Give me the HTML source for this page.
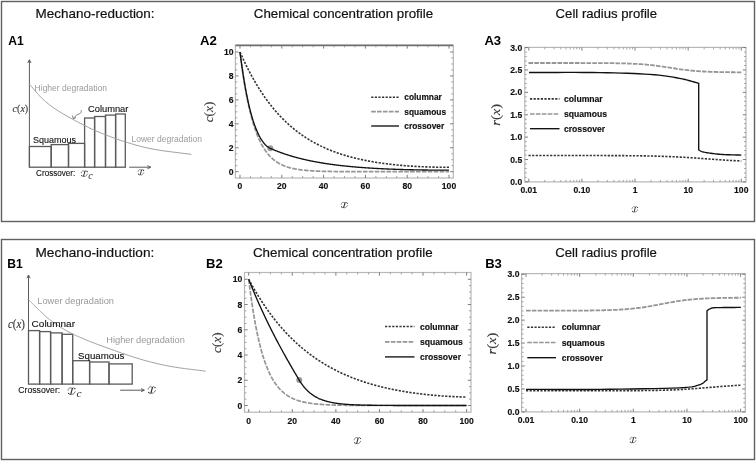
<!DOCTYPE html><html><head><meta charset="utf-8"><style>html,body{margin:0;padding:0;background:#fff;width:756px;height:461px;overflow:hidden}svg{display:block;filter:grayscale(1)}</style></head><body><svg width="756" height="461" viewBox="0 0 756 461">
<rect x="0" y="0" width="756" height="461" fill="#fff"/>
<rect x="1.5" y="1.5" width="753" height="220" fill="none" stroke="#606060" stroke-width="1.4"/>
<rect x="1.5" y="239.5" width="753" height="220" fill="none" stroke="#606060" stroke-width="1.4"/>
<text x="35.6" y="17.7" font-family="'Liberation Sans', sans-serif" font-size="12.6" fill="#111" font-weight="normal" font-style="normal" text-anchor="start" textLength="119" lengthAdjust="spacingAndGlyphs" stroke="#111" stroke-width="0.18">Mechano-reduction:</text>
<text x="253.8" y="17.7" font-family="'Liberation Sans', sans-serif" font-size="12.6" fill="#111" font-weight="normal" font-style="normal" text-anchor="start" textLength="179.3" lengthAdjust="spacingAndGlyphs" stroke="#111" stroke-width="0.18">Chemical concentration profile</text>
<text x="555.6" y="17.7" font-family="'Liberation Sans', sans-serif" font-size="12.6" fill="#111" font-weight="normal" font-style="normal" text-anchor="start" textLength="101.5" lengthAdjust="spacingAndGlyphs" stroke="#111" stroke-width="0.18">Cell radius profile</text>
<text x="35.5" y="256.6" font-family="'Liberation Sans', sans-serif" font-size="12.6" fill="#111" font-weight="normal" font-style="normal" text-anchor="start" textLength="118.8" lengthAdjust="spacingAndGlyphs" stroke="#111" stroke-width="0.18">Mechano-induction:</text>
<text x="252.9" y="256.6" font-family="'Liberation Sans', sans-serif" font-size="12.6" fill="#111" font-weight="normal" font-style="normal" text-anchor="start" textLength="179.7" lengthAdjust="spacingAndGlyphs" stroke="#111" stroke-width="0.18">Chemical concentration profile</text>
<text x="555.3" y="256.6" font-family="'Liberation Sans', sans-serif" font-size="12.6" fill="#111" font-weight="normal" font-style="normal" text-anchor="start" textLength="101.6" lengthAdjust="spacingAndGlyphs" stroke="#111" stroke-width="0.18">Cell radius profile</text>
<text x="8.3" y="44.9" font-family="'Liberation Sans', sans-serif" font-size="13.6" fill="#000" font-weight="bold" font-style="normal" text-anchor="start" textLength="15.5" lengthAdjust="spacingAndGlyphs">A1</text>
<text x="200" y="44.8" font-family="'Liberation Sans', sans-serif" font-size="13.6" fill="#000" font-weight="bold" font-style="normal" text-anchor="start" textLength="16.9" lengthAdjust="spacingAndGlyphs">A2</text>
<text x="484.4" y="44.5" font-family="'Liberation Sans', sans-serif" font-size="13.6" fill="#000" font-weight="bold" font-style="normal" text-anchor="start" textLength="16.8" lengthAdjust="spacingAndGlyphs">A3</text>
<text x="7.3" y="267.7" font-family="'Liberation Sans', sans-serif" font-size="13.6" fill="#000" font-weight="bold" font-style="normal" text-anchor="start" textLength="15.5" lengthAdjust="spacingAndGlyphs">B1</text>
<text x="206" y="268" font-family="'Liberation Sans', sans-serif" font-size="13.6" fill="#000" font-weight="bold" font-style="normal" text-anchor="start" textLength="16.7" lengthAdjust="spacingAndGlyphs">B2</text>
<text x="485.2" y="268" font-family="'Liberation Sans', sans-serif" font-size="13.6" fill="#000" font-weight="bold" font-style="normal" text-anchor="start" textLength="16.7" lengthAdjust="spacingAndGlyphs">B3</text>
<rect x="29.4" y="146.5" width="21.8" height="20.7" fill="none" stroke="#5a5a5a" stroke-width="1.3"/>
<rect x="51.2" y="144.6" width="17.3" height="22.6" fill="none" stroke="#5a5a5a" stroke-width="1.3"/>
<rect x="68.5" y="143.4" width="16.1" height="23.8" fill="none" stroke="#5a5a5a" stroke-width="1.3"/>
<rect x="84.6" y="118" width="10" height="49.2" fill="none" stroke="#5a5a5a" stroke-width="1.3"/>
<rect x="94.6" y="116.5" width="10.9" height="50.7" fill="none" stroke="#5a5a5a" stroke-width="1.3"/>
<rect x="105.5" y="115.1" width="10.1" height="52.1" fill="none" stroke="#5a5a5a" stroke-width="1.3"/>
<rect x="115.6" y="114" width="9.7" height="53.2" fill="none" stroke="#5a5a5a" stroke-width="1.3"/>
<path d="M29.4,167.2 L29.4,59.8" fill="none" stroke="#5a5a5a" stroke-width="1.0"/>
<path d="M27.8,63 L29.4,59.8 L31,63" fill="none" stroke="#5a5a5a" stroke-width="1.0"/>
<path d="M129.2,167.2 L150.7,167.2" fill="none" stroke="#5a5a5a" stroke-width="1.0"/>
<path d="M147.5,165.6 L150.7,167.2 L147.5,168.8" fill="none" stroke="#5a5a5a" stroke-width="1.0"/>
<path d="M29.4,84 L30.54,85.3 L31.67,86.62 L32.78,87.95 L33.89,89.28 L35,90.61 L36.11,91.94 L37.24,93.25 L38.38,94.56 L39.54,95.84 L40.73,97.09 L41.94,98.31 L43.2,99.5 L44.47,100.64 L45.74,101.75 L47.01,102.81 L48.3,103.86 L49.6,104.88 L50.94,105.88 L52.31,106.88 L53.73,107.88 L55.2,108.88 L56.73,109.9 L58.32,110.94 L60,112 L61.8,113.1 L63.73,114.25 L65.77,115.43 L67.9,116.63 L70.07,117.83 L72.27,119.03 L74.47,120.21 L76.64,121.36 L78.74,122.46 L80.75,123.52 L82.65,124.5 L84.4,125.4 L85.98,126.21 L87.4,126.94 L88.7,127.59 L89.9,128.19 L91.04,128.74 L92.16,129.26 L93.27,129.77 L94.42,130.28 L95.64,130.8 L96.95,131.36 L98.4,131.95 L100,132.6 L101.75,133.3 L103.6,134.04 L105.54,134.8 L107.56,135.59 L109.65,136.39 L111.79,137.19 L113.97,138 L116.18,138.8 L118.41,139.59 L120.65,140.35 L122.88,141.09 L125.1,141.8 L127.29,142.48 L129.45,143.15 L131.61,143.81 L133.77,144.45 L135.95,145.08 L138.16,145.69 L140.42,146.3 L142.74,146.89 L145.13,147.46 L147.62,148.02 L150.2,148.57 L152.9,149.1 L155.73,149.61 L158.7,150.1 L161.77,150.57 L164.94,151.01 L168.18,151.45 L171.48,151.88 L174.82,152.29 L178.17,152.71 L181.52,153.12 L184.86,153.54 L188.16,153.96 L191.4,154.4" fill="none" stroke="#a0a0a0" stroke-width="1.0"/>
<path d="M81.5,110 L81.35,110.55 L81.24,111.11 L81.13,111.67 L80.97,112.22 L80.75,112.74 L80.4,113.2 L79.9,113.59 L79.28,113.9 L78.58,114.19 L77.85,114.47 L77.14,114.8 L76.5,115.2 L75.93,115.69 L75.38,116.23 L74.86,116.81 L74.34,117.41 L73.83,118.02 L73.3,118.6" fill="none" stroke="#707070" stroke-width="0.9"/>
<path d="M72.4,115.6 L73.3,118.6 L76,117.6" fill="none" stroke="#707070" stroke-width="0.9"/>
<text x="34.6" y="90.9" font-family="'Liberation Sans', sans-serif" font-size="8.8" fill="#9a9a9a" font-weight="normal" font-style="normal" text-anchor="start" textLength="72.4" lengthAdjust="spacingAndGlyphs">Higher degradation</text>
<text x="131.5" y="142.2" font-family="'Liberation Sans', sans-serif" font-size="8.8" fill="#9a9a9a" font-weight="normal" font-style="normal" text-anchor="start" textLength="70.5" lengthAdjust="spacingAndGlyphs">Lower degradation</text>
<text x="33" y="142.9" font-family="'Liberation Sans', sans-serif" font-size="9.2" fill="#111" font-weight="normal" font-style="normal" text-anchor="start" textLength="43" lengthAdjust="spacingAndGlyphs" stroke="#111" stroke-width="0.12">Squamous</text>
<text x="88" y="112.3" font-family="'Liberation Sans', sans-serif" font-size="9.2" fill="#111" font-weight="normal" font-style="normal" text-anchor="start" textLength="40.4" lengthAdjust="spacingAndGlyphs" stroke="#111" stroke-width="0.12">Columnar</text>
<text x="36.1" y="176.1" font-family="'Liberation Sans', sans-serif" font-size="9.2" fill="#111" font-weight="normal" font-style="normal" text-anchor="start" textLength="39.2" lengthAdjust="spacingAndGlyphs" stroke="#111" stroke-width="0.12">Crossover:</text>
<text x="12.6" y="111.9" font-family="'Liberation Serif', serif" font-size="11" fill="#3a3a3a" stroke="#3a3a3a" stroke-width="0.15" text-anchor="start" textLength="15.6" lengthAdjust="spacingAndGlyphs"><tspan font-style="italic">c</tspan>(<tspan font-style="italic">x</tspan>)</text>
<g fill="none" stroke="#2a2a2a" stroke-linecap="round">
<path d="M84.95,171.27 L83.6,176.17" stroke-width="0.99"/>
<path d="M81.18,172.88 C81.47,170.9 83.17,170.15 84.95,171.39 C85.52,170.52 86.72,170.4 87.29,171.52" stroke-width="0.53"/>
<path d="M81.61,175.61 C81.97,176.6 83.03,176.72 83.6,176.17 C84.45,176.91 86.58,176.29 87.43,174.12" stroke-width="0.53"/>
</g>
<circle cx="87.15" cy="171.64" r="0.55" fill="#2a2a2a"/>
<circle cx="81.68" cy="175.55" r="0.55" fill="#2a2a2a"/>
<text x="88.21" y="178.8" font-family="'Liberation Serif', serif" font-size="9.79" fill="#2a2a2a" font-style="italic" textLength="4.5" lengthAdjust="spacingAndGlyphs">c</text>
<g fill="none" stroke="#2a2a2a" stroke-linecap="round">
<path d="M141.51,170.03 L140.27,174.69" stroke-width="0.91"/>
<path d="M138.06,171.56 C138.32,169.67 139.88,168.96 141.51,170.14 C142.03,169.32 143.13,169.2 143.65,170.26" stroke-width="0.5"/>
<path d="M138.45,174.16 C138.78,175.1 139.75,175.22 140.27,174.69 C141.05,175.39 143,174.81 143.78,172.74" stroke-width="0.5"/>
</g>
<circle cx="143.52" cy="170.38" r="0.55" fill="#2a2a2a"/>
<circle cx="138.52" cy="174.1" r="0.55" fill="#2a2a2a"/>
<rect x="28.5" y="330.6" width="11.1" height="53.5" fill="none" stroke="#5a5a5a" stroke-width="1.3"/>
<rect x="39.6" y="331.6" width="11" height="52.5" fill="none" stroke="#5a5a5a" stroke-width="1.3"/>
<rect x="50.6" y="332.9" width="11.5" height="51.2" fill="none" stroke="#5a5a5a" stroke-width="1.3"/>
<rect x="62.1" y="334.3" width="10.6" height="49.8" fill="none" stroke="#5a5a5a" stroke-width="1.3"/>
<rect x="72.7" y="360.7" width="16.9" height="23.4" fill="none" stroke="#5a5a5a" stroke-width="1.3"/>
<rect x="89.6" y="362" width="19.4" height="22.1" fill="none" stroke="#5a5a5a" stroke-width="1.3"/>
<rect x="109" y="363.9" width="23.2" height="20.2" fill="none" stroke="#5a5a5a" stroke-width="1.3"/>
<path d="M28.5,384.1 L28.5,275" fill="none" stroke="#5a5a5a" stroke-width="1.0"/>
<path d="M26.9,278.2 L28.5,275 L30.1,278.2" fill="none" stroke="#5a5a5a" stroke-width="1.0"/>
<path d="M120.2,390.2 L144.3,390.2" fill="none" stroke="#5a5a5a" stroke-width="1.0"/>
<path d="M141.1,388.6 L144.3,390.2 L141.1,391.8" fill="none" stroke="#5a5a5a" stroke-width="1.0"/>
<path d="M28.5,299.6 L29.43,300.52 L30.37,301.46 L31.31,302.4 L32.25,303.35 L33.19,304.29 L34.13,305.24 L35.07,306.17 L36,307.1 L36.92,308 L37.83,308.89 L38.72,309.76 L39.6,310.6 L40.45,311.41 L41.28,312.19 L42.07,312.95 L42.86,313.7 L43.63,314.42 L44.4,315.14 L45.18,315.84 L45.97,316.55 L46.78,317.25 L47.61,317.96 L48.49,318.67 L49.4,319.4 L50.36,320.14 L51.36,320.9 L52.39,321.66 L53.46,322.43 L54.54,323.19 L55.63,323.96 L56.73,324.71 L57.83,325.45 L58.93,326.18 L60.01,326.88 L61.07,327.55 L62.1,328.2 L63.11,328.82 L64.11,329.41 L65.11,329.98 L66.09,330.54 L67.07,331.07 L68.04,331.59 L69.01,332.1 L69.97,332.6 L70.93,333.08 L71.89,333.56 L72.85,334.03 L73.8,334.5 L74.74,334.95 L75.65,335.39 L76.55,335.8 L77.43,336.2 L78.31,336.59 L79.19,336.97 L80.09,337.36 L81,337.74 L81.94,338.14 L82.92,338.54 L83.94,338.96 L85,339.4 L86.04,339.83 L87.02,340.24 L87.95,340.64 L88.87,341.03 L89.83,341.42 L90.84,341.84 L91.94,342.28 L93.17,342.76 L94.56,343.3 L96.14,343.89 L97.94,344.55 L100,345.3 L102.37,346.16 L105.05,347.13 L107.98,348.19 L111.12,349.33 L114.42,350.51 L117.83,351.73 L121.29,352.95 L124.77,354.15 L128.21,355.32 L131.56,356.43 L134.77,357.47 L137.8,358.4 L140.67,359.25 L143.45,360.05 L146.16,360.81 L148.82,361.53 L151.44,362.21 L154.04,362.86 L156.63,363.48 L159.22,364.08 L161.84,364.66 L164.5,365.22 L167.22,365.76 L170,366.3 L172.85,366.81 L175.74,367.29 L178.66,367.74 L181.61,368.16 L184.59,368.55 L187.59,368.94 L190.59,369.31 L193.61,369.68 L196.62,370.05 L199.63,370.42 L202.62,370.8 L205.6,371.2" fill="none" stroke="#a0a0a0" stroke-width="1.0"/>
<text x="37.3" y="304.3" font-family="'Liberation Sans', sans-serif" font-size="9" fill="#9a9a9a" font-weight="normal" font-style="normal" text-anchor="start" textLength="76.7" lengthAdjust="spacingAndGlyphs">Lower degradation</text>
<text x="106.3" y="342.5" font-family="'Liberation Sans', sans-serif" font-size="9" fill="#9a9a9a" font-weight="normal" font-style="normal" text-anchor="start" textLength="78.6" lengthAdjust="spacingAndGlyphs">Higher degradation</text>
<text x="31.6" y="326.8" font-family="'Liberation Sans', sans-serif" font-size="9.5" fill="#111" font-weight="normal" font-style="normal" text-anchor="start" textLength="43.4" lengthAdjust="spacingAndGlyphs" stroke="#111" stroke-width="0.12">Columnar</text>
<text x="78.1" y="358.9" font-family="'Liberation Sans', sans-serif" font-size="9.5" fill="#111" font-weight="normal" font-style="normal" text-anchor="start" textLength="46.3" lengthAdjust="spacingAndGlyphs" stroke="#111" stroke-width="0.12">Squamous</text>
<text x="18.3" y="393.1" font-family="'Liberation Sans', sans-serif" font-size="9.5" fill="#111" font-weight="normal" font-style="normal" text-anchor="start" textLength="41.9" lengthAdjust="spacingAndGlyphs" stroke="#111" stroke-width="0.12">Crossover:</text>
<text x="8" y="328.3" font-family="'Liberation Serif', serif" font-size="11.5" fill="#3a3a3a" stroke="#3a3a3a" stroke-width="0.15" text-anchor="start" textLength="17" lengthAdjust="spacingAndGlyphs"><tspan font-style="italic">c</tspan>(<tspan font-style="italic">x</tspan>)</text>
<g fill="none" stroke="#2a2a2a" stroke-linecap="round">
<path d="M72.37,388.41 L70.82,394.1" stroke-width="1.15"/>
<path d="M68.03,390.28 C68.36,387.98 70.32,387.11 72.37,388.55 C73.03,387.54 74.42,387.4 75.08,388.7" stroke-width="0.62"/>
<path d="M68.52,393.45 C68.93,394.6 70.16,394.74 70.82,394.1 C71.8,394.96 74.26,394.24 75.24,391.72" stroke-width="0.62"/>
</g>
<circle cx="74.92" cy="388.84" r="0.62" fill="#2a2a2a"/>
<circle cx="68.6" cy="393.38" r="0.62" fill="#2a2a2a"/>
<text x="76.57" y="396.8" font-family="'Liberation Serif', serif" font-size="10.64" fill="#2a2a2a" font-style="italic" textLength="5.1" lengthAdjust="spacingAndGlyphs">c</text>
<g fill="none" stroke="#2a2a2a" stroke-linecap="round">
<path d="M152.47,387.31 L150.92,393" stroke-width="1.15"/>
<path d="M148.13,389.18 C148.46,386.88 150.42,386.01 152.47,387.45 C153.13,386.44 154.52,386.3 155.18,387.6" stroke-width="0.61"/>
<path d="M148.62,392.35 C149.03,393.5 150.26,393.64 150.92,393 C151.9,393.86 154.36,393.14 155.34,390.62" stroke-width="0.61"/>
</g>
<circle cx="155.02" cy="387.74" r="0.61" fill="#2a2a2a"/>
<circle cx="148.7" cy="392.28" r="0.61" fill="#2a2a2a"/>
<!--A2-->
<rect x="235.4" y="45.4" width="217.9" height="132.6" fill="none" stroke="#b8b8b8" stroke-width="1.2"/>
<path d="M235.4,171.7 L238.6,171.7" fill="none" stroke="#707070" stroke-width="0.9"/>
<path d="M453.3,171.7 L450.1,171.7" fill="none" stroke="#707070" stroke-width="0.9"/>
<path d="M235.4,147.76 L238.6,147.76" fill="none" stroke="#707070" stroke-width="0.9"/>
<path d="M453.3,147.76 L450.1,147.76" fill="none" stroke="#707070" stroke-width="0.9"/>
<path d="M235.4,123.82 L238.6,123.82" fill="none" stroke="#707070" stroke-width="0.9"/>
<path d="M453.3,123.82 L450.1,123.82" fill="none" stroke="#707070" stroke-width="0.9"/>
<path d="M235.4,99.88 L238.6,99.88" fill="none" stroke="#707070" stroke-width="0.9"/>
<path d="M453.3,99.88 L450.1,99.88" fill="none" stroke="#707070" stroke-width="0.9"/>
<path d="M235.4,75.94 L238.6,75.94" fill="none" stroke="#707070" stroke-width="0.9"/>
<path d="M453.3,75.94 L450.1,75.94" fill="none" stroke="#707070" stroke-width="0.9"/>
<path d="M235.4,52 L238.6,52" fill="none" stroke="#707070" stroke-width="0.9"/>
<path d="M453.3,52 L450.1,52" fill="none" stroke="#707070" stroke-width="0.9"/>
<path d="M235.4,165.71 L237.4,165.71" fill="none" stroke="#909090" stroke-width="0.8"/>
<path d="M453.3,165.71 L451.3,165.71" fill="none" stroke="#909090" stroke-width="0.8"/>
<path d="M235.4,159.73 L237.4,159.73" fill="none" stroke="#909090" stroke-width="0.8"/>
<path d="M453.3,159.73 L451.3,159.73" fill="none" stroke="#909090" stroke-width="0.8"/>
<path d="M235.4,153.74 L237.4,153.74" fill="none" stroke="#909090" stroke-width="0.8"/>
<path d="M453.3,153.74 L451.3,153.74" fill="none" stroke="#909090" stroke-width="0.8"/>
<path d="M235.4,141.77 L237.4,141.77" fill="none" stroke="#909090" stroke-width="0.8"/>
<path d="M453.3,141.77 L451.3,141.77" fill="none" stroke="#909090" stroke-width="0.8"/>
<path d="M235.4,135.79 L237.4,135.79" fill="none" stroke="#909090" stroke-width="0.8"/>
<path d="M453.3,135.79 L451.3,135.79" fill="none" stroke="#909090" stroke-width="0.8"/>
<path d="M235.4,129.8 L237.4,129.8" fill="none" stroke="#909090" stroke-width="0.8"/>
<path d="M453.3,129.8 L451.3,129.8" fill="none" stroke="#909090" stroke-width="0.8"/>
<path d="M235.4,117.83 L237.4,117.83" fill="none" stroke="#909090" stroke-width="0.8"/>
<path d="M453.3,117.83 L451.3,117.83" fill="none" stroke="#909090" stroke-width="0.8"/>
<path d="M235.4,111.85 L237.4,111.85" fill="none" stroke="#909090" stroke-width="0.8"/>
<path d="M453.3,111.85 L451.3,111.85" fill="none" stroke="#909090" stroke-width="0.8"/>
<path d="M235.4,105.86 L237.4,105.86" fill="none" stroke="#909090" stroke-width="0.8"/>
<path d="M453.3,105.86 L451.3,105.86" fill="none" stroke="#909090" stroke-width="0.8"/>
<path d="M235.4,93.89 L237.4,93.89" fill="none" stroke="#909090" stroke-width="0.8"/>
<path d="M453.3,93.89 L451.3,93.89" fill="none" stroke="#909090" stroke-width="0.8"/>
<path d="M235.4,87.91 L237.4,87.91" fill="none" stroke="#909090" stroke-width="0.8"/>
<path d="M453.3,87.91 L451.3,87.91" fill="none" stroke="#909090" stroke-width="0.8"/>
<path d="M235.4,81.92 L237.4,81.92" fill="none" stroke="#909090" stroke-width="0.8"/>
<path d="M453.3,81.92 L451.3,81.92" fill="none" stroke="#909090" stroke-width="0.8"/>
<path d="M235.4,69.95 L237.4,69.95" fill="none" stroke="#909090" stroke-width="0.8"/>
<path d="M453.3,69.95 L451.3,69.95" fill="none" stroke="#909090" stroke-width="0.8"/>
<path d="M235.4,63.97 L237.4,63.97" fill="none" stroke="#909090" stroke-width="0.8"/>
<path d="M453.3,63.97 L451.3,63.97" fill="none" stroke="#909090" stroke-width="0.8"/>
<path d="M235.4,57.98 L237.4,57.98" fill="none" stroke="#909090" stroke-width="0.8"/>
<path d="M453.3,57.98 L451.3,57.98" fill="none" stroke="#909090" stroke-width="0.8"/>
<path d="M240,178 L240,174.8" fill="none" stroke="#707070" stroke-width="0.9"/>
<path d="M240,45.4 L240,48.6" fill="none" stroke="#707070" stroke-width="0.9"/>
<path d="M281.8,178 L281.8,174.8" fill="none" stroke="#707070" stroke-width="0.9"/>
<path d="M281.8,45.4 L281.8,48.6" fill="none" stroke="#707070" stroke-width="0.9"/>
<path d="M323.6,178 L323.6,174.8" fill="none" stroke="#707070" stroke-width="0.9"/>
<path d="M323.6,45.4 L323.6,48.6" fill="none" stroke="#707070" stroke-width="0.9"/>
<path d="M365.4,178 L365.4,174.8" fill="none" stroke="#707070" stroke-width="0.9"/>
<path d="M365.4,45.4 L365.4,48.6" fill="none" stroke="#707070" stroke-width="0.9"/>
<path d="M407.2,178 L407.2,174.8" fill="none" stroke="#707070" stroke-width="0.9"/>
<path d="M407.2,45.4 L407.2,48.6" fill="none" stroke="#707070" stroke-width="0.9"/>
<path d="M449,178 L449,174.8" fill="none" stroke="#707070" stroke-width="0.9"/>
<path d="M449,45.4 L449,48.6" fill="none" stroke="#707070" stroke-width="0.9"/>
<path d="M250.45,178 L250.45,176" fill="none" stroke="#909090" stroke-width="0.8"/>
<path d="M250.45,45.4 L250.45,47.4" fill="none" stroke="#909090" stroke-width="0.8"/>
<path d="M260.9,178 L260.9,176" fill="none" stroke="#909090" stroke-width="0.8"/>
<path d="M260.9,45.4 L260.9,47.4" fill="none" stroke="#909090" stroke-width="0.8"/>
<path d="M271.35,178 L271.35,176" fill="none" stroke="#909090" stroke-width="0.8"/>
<path d="M271.35,45.4 L271.35,47.4" fill="none" stroke="#909090" stroke-width="0.8"/>
<path d="M292.25,178 L292.25,176" fill="none" stroke="#909090" stroke-width="0.8"/>
<path d="M292.25,45.4 L292.25,47.4" fill="none" stroke="#909090" stroke-width="0.8"/>
<path d="M302.7,178 L302.7,176" fill="none" stroke="#909090" stroke-width="0.8"/>
<path d="M302.7,45.4 L302.7,47.4" fill="none" stroke="#909090" stroke-width="0.8"/>
<path d="M313.15,178 L313.15,176" fill="none" stroke="#909090" stroke-width="0.8"/>
<path d="M313.15,45.4 L313.15,47.4" fill="none" stroke="#909090" stroke-width="0.8"/>
<path d="M334.05,178 L334.05,176" fill="none" stroke="#909090" stroke-width="0.8"/>
<path d="M334.05,45.4 L334.05,47.4" fill="none" stroke="#909090" stroke-width="0.8"/>
<path d="M344.5,178 L344.5,176" fill="none" stroke="#909090" stroke-width="0.8"/>
<path d="M344.5,45.4 L344.5,47.4" fill="none" stroke="#909090" stroke-width="0.8"/>
<path d="M354.95,178 L354.95,176" fill="none" stroke="#909090" stroke-width="0.8"/>
<path d="M354.95,45.4 L354.95,47.4" fill="none" stroke="#909090" stroke-width="0.8"/>
<path d="M375.85,178 L375.85,176" fill="none" stroke="#909090" stroke-width="0.8"/>
<path d="M375.85,45.4 L375.85,47.4" fill="none" stroke="#909090" stroke-width="0.8"/>
<path d="M386.3,178 L386.3,176" fill="none" stroke="#909090" stroke-width="0.8"/>
<path d="M386.3,45.4 L386.3,47.4" fill="none" stroke="#909090" stroke-width="0.8"/>
<path d="M396.75,178 L396.75,176" fill="none" stroke="#909090" stroke-width="0.8"/>
<path d="M396.75,45.4 L396.75,47.4" fill="none" stroke="#909090" stroke-width="0.8"/>
<path d="M417.65,178 L417.65,176" fill="none" stroke="#909090" stroke-width="0.8"/>
<path d="M417.65,45.4 L417.65,47.4" fill="none" stroke="#909090" stroke-width="0.8"/>
<path d="M428.1,178 L428.1,176" fill="none" stroke="#909090" stroke-width="0.8"/>
<path d="M428.1,45.4 L428.1,47.4" fill="none" stroke="#909090" stroke-width="0.8"/>
<path d="M438.55,178 L438.55,176" fill="none" stroke="#909090" stroke-width="0.8"/>
<path d="M438.55,45.4 L438.55,47.4" fill="none" stroke="#909090" stroke-width="0.8"/>
<text x="233.6" y="174.8" font-family="'Liberation Sans', sans-serif" font-size="8.6" fill="#111" font-weight="bold" font-style="normal" text-anchor="end" stroke="#111" stroke-width="0.15">0</text>
<text x="233.6" y="150.86" font-family="'Liberation Sans', sans-serif" font-size="8.6" fill="#111" font-weight="bold" font-style="normal" text-anchor="end" stroke="#111" stroke-width="0.15">2</text>
<text x="233.6" y="126.92" font-family="'Liberation Sans', sans-serif" font-size="8.6" fill="#111" font-weight="bold" font-style="normal" text-anchor="end" stroke="#111" stroke-width="0.15">4</text>
<text x="233.6" y="102.98" font-family="'Liberation Sans', sans-serif" font-size="8.6" fill="#111" font-weight="bold" font-style="normal" text-anchor="end" stroke="#111" stroke-width="0.15">6</text>
<text x="233.6" y="79.04" font-family="'Liberation Sans', sans-serif" font-size="8.6" fill="#111" font-weight="bold" font-style="normal" text-anchor="end" stroke="#111" stroke-width="0.15">8</text>
<text x="233.6" y="55.1" font-family="'Liberation Sans', sans-serif" font-size="8.6" fill="#111" font-weight="bold" font-style="normal" text-anchor="end" stroke="#111" stroke-width="0.15">10</text>
<text x="240" y="189.2" font-family="'Liberation Sans', sans-serif" font-size="8.6" fill="#111" font-weight="bold" font-style="normal" text-anchor="middle" stroke="#111" stroke-width="0.15">0</text>
<text x="281.8" y="189.2" font-family="'Liberation Sans', sans-serif" font-size="8.6" fill="#111" font-weight="bold" font-style="normal" text-anchor="middle" stroke="#111" stroke-width="0.15">20</text>
<text x="323.6" y="189.2" font-family="'Liberation Sans', sans-serif" font-size="8.6" fill="#111" font-weight="bold" font-style="normal" text-anchor="middle" stroke="#111" stroke-width="0.15">40</text>
<text x="365.4" y="189.2" font-family="'Liberation Sans', sans-serif" font-size="8.6" fill="#111" font-weight="bold" font-style="normal" text-anchor="middle" stroke="#111" stroke-width="0.15">60</text>
<text x="407.2" y="189.2" font-family="'Liberation Sans', sans-serif" font-size="8.6" fill="#111" font-weight="bold" font-style="normal" text-anchor="middle" stroke="#111" stroke-width="0.15">80</text>
<text x="449" y="189.2" font-family="'Liberation Sans', sans-serif" font-size="8.6" fill="#111" font-weight="bold" font-style="normal" text-anchor="middle" stroke="#111" stroke-width="0.15">100</text>
<path d="M240,52 L240.52,53.19 L241.04,54.37 L241.57,55.54 L242.09,56.69 L242.61,57.83 L243.13,58.97 L243.66,60.09 L244.18,61.2 L244.7,62.3 L245.22,63.38 L245.75,64.46 L246.27,65.53 L246.79,66.58 L247.31,67.63 L247.84,68.66 L248.36,69.69 L248.88,70.7 L249.41,71.7 L249.93,72.7 L250.45,73.68 L250.97,74.66 L251.5,75.62 L252.02,76.58 L252.54,77.52 L253.06,78.46 L253.59,79.38 L254.11,80.3 L254.63,81.21 L255.15,82.11 L255.68,83 L256.2,83.88 L256.72,84.75 L257.24,85.62 L257.76,86.47 L258.29,87.32 L258.81,88.16 L259.33,88.99 L259.86,89.81 L260.38,90.62 L260.9,91.43 L261.42,92.23 L261.94,93.02 L262.47,93.8 L262.99,94.57 L263.51,95.34 L264.03,96.1 L264.56,96.85 L265.08,97.59 L265.6,98.33 L266.12,99.06 L266.65,99.78 L267.17,100.49 L267.69,101.2 L268.21,101.9 L268.74,102.59 L269.26,103.28 L269.78,103.96 L270.31,104.63 L270.83,105.3 L271.35,105.96 L271.87,106.61 L272.39,107.26 L272.92,107.89 L273.44,108.53 L273.96,109.16 L274.49,109.78 L275.01,110.39 L275.53,111 L276.05,111.6 L276.57,112.2 L277.1,112.79 L277.62,113.37 L278.14,113.95 L278.67,114.52 L279.19,115.09 L279.71,115.65 L280.23,116.21 L280.75,116.76 L281.28,117.3 L281.8,117.84 L282.32,118.38 L282.85,118.91 L283.37,119.43 L283.89,119.95 L284.41,120.46 L284.94,120.97 L285.46,121.47 L285.98,121.97 L286.5,122.46 L287.02,122.95 L287.55,123.43 L288.07,123.91 L288.59,124.39 L289.12,124.85 L289.64,125.32 L290.16,125.78 L290.68,126.23 L291.2,126.68 L291.73,127.13 L292.25,127.57 L292.77,128.01 L293.3,128.44 L293.82,128.87 L294.34,129.29 L294.86,129.71 L295.38,130.13 L295.91,130.54 L296.43,130.95 L296.95,131.35 L297.48,131.75 L298,132.14 L298.52,132.53 L299.04,132.92 L299.56,133.3 L300.09,133.68 L300.61,134.06 L301.13,134.43 L301.65,134.8 L302.18,135.16 L302.7,135.53 L303.22,135.88 L303.75,136.24 L304.27,136.59 L304.79,136.93 L305.31,137.28 L305.83,137.62 L306.36,137.95 L306.88,138.29 L307.4,138.62 L307.93,138.94 L308.45,139.26 L308.97,139.58 L309.49,139.9 L310.01,140.21 L310.54,140.52 L311.06,140.83 L311.58,141.14 L312.11,141.44 L312.63,141.73 L313.15,142.03 L313.67,142.32 L314.19,142.61 L314.72,142.9 L315.24,143.18 L315.76,143.46 L316.28,143.74 L316.81,144.01 L317.33,144.28 L317.85,144.55 L318.38,144.82 L318.9,145.08 L319.42,145.35 L319.94,145.6 L320.46,145.86 L320.99,146.11 L321.51,146.36 L322.03,146.61 L322.56,146.86 L323.08,147.1 L323.6,147.34 L324.12,147.58 L324.64,147.82 L325.17,148.05 L325.69,148.28 L326.21,148.51 L326.74,148.74 L327.26,148.96 L327.78,149.18 L328.3,149.4 L328.82,149.62 L329.35,149.84 L329.87,150.05 L330.39,150.26 L330.91,150.47 L331.44,150.68 L331.96,150.88 L332.48,151.08 L333,151.28 L333.53,151.48 L334.05,151.68 L334.57,151.87 L335.1,152.06 L335.62,152.25 L336.14,152.44 L336.66,152.63 L337.19,152.81 L337.71,153 L338.23,153.18 L338.75,153.36 L339.27,153.53 L339.8,153.71 L340.32,153.88 L340.84,154.06 L341.37,154.23 L341.89,154.39 L342.41,154.56 L342.93,154.72 L343.45,154.89 L343.98,155.05 L344.5,155.21 L345.02,155.37 L345.54,155.52 L346.07,155.68 L346.59,155.83 L347.11,155.98 L347.63,156.13 L348.16,156.28 L348.68,156.43 L349.2,156.58 L349.73,156.72 L350.25,156.86 L350.77,157 L351.29,157.14 L351.81,157.28 L352.34,157.42 L352.86,157.55 L353.38,157.69 L353.9,157.82 L354.43,157.95 L354.95,158.08 L355.47,158.21 L356,158.33 L356.52,158.46 L357.04,158.58 L357.56,158.71 L358.08,158.83 L358.61,158.95 L359.13,159.07 L359.65,159.19 L360.18,159.3 L360.7,159.42 L361.22,159.53 L361.74,159.65 L362.26,159.76 L362.79,159.87 L363.31,159.98 L363.83,160.08 L364.36,160.19 L364.88,160.3 L365.4,160.4 L365.92,160.51 L366.44,160.61 L366.97,160.71 L367.49,160.81 L368.01,160.91 L368.53,161.01 L369.06,161.1 L369.58,161.2 L370.1,161.29 L370.62,161.39 L371.15,161.48 L371.67,161.57 L372.19,161.66 L372.72,161.75 L373.24,161.84 L373.76,161.93 L374.28,162.02 L374.8,162.1 L375.33,162.19 L375.85,162.27 L376.37,162.35 L376.89,162.44 L377.42,162.52 L377.94,162.6 L378.46,162.68 L378.99,162.76 L379.51,162.83 L380.03,162.91 L380.55,162.99 L381.07,163.06 L381.6,163.13 L382.12,163.21 L382.64,163.28 L383.16,163.35 L383.69,163.42 L384.21,163.49 L384.73,163.56 L385.25,163.63 L385.78,163.7 L386.3,163.76 L386.82,163.83 L387.35,163.89 L387.87,163.96 L388.39,164.02 L388.91,164.08 L389.44,164.15 L389.96,164.21 L390.48,164.27 L391,164.33 L391.52,164.39 L392.05,164.44 L392.57,164.5 L393.09,164.56 L393.62,164.61 L394.14,164.67 L394.66,164.72 L395.18,164.78 L395.7,164.83 L396.23,164.88 L396.75,164.94 L397.27,164.99 L397.79,165.04 L398.32,165.09 L398.84,165.14 L399.36,165.19 L399.88,165.23 L400.41,165.28 L400.93,165.33 L401.45,165.37 L401.98,165.42 L402.5,165.46 L403.02,165.51 L403.54,165.55 L404.06,165.59 L404.59,165.64 L405.11,165.68 L405.63,165.72 L406.15,165.76 L406.68,165.8 L407.2,165.84 L407.72,165.88 L408.25,165.91 L408.77,165.95 L409.29,165.99 L409.81,166.03 L410.33,166.06 L410.86,166.1 L411.38,166.13 L411.9,166.16 L412.42,166.2 L412.95,166.23 L413.47,166.26 L413.99,166.3 L414.51,166.33 L415.04,166.36 L415.56,166.39 L416.08,166.42 L416.61,166.45 L417.13,166.48 L417.65,166.5 L418.17,166.53 L418.69,166.56 L419.22,166.59 L419.74,166.61 L420.26,166.64 L420.78,166.66 L421.31,166.69 L421.83,166.71 L422.35,166.73 L422.88,166.76 L423.4,166.78 L423.92,166.8 L424.44,166.82 L424.96,166.84 L425.49,166.87 L426.01,166.89 L426.53,166.91 L427.05,166.92 L427.58,166.94 L428.1,166.96 L428.62,166.98 L429.14,167 L429.67,167.01 L430.19,167.03 L430.71,167.05 L431.24,167.06 L431.76,167.08 L432.28,167.09 L432.8,167.1 L433.32,167.12 L433.85,167.13 L434.37,167.14 L434.89,167.16 L435.41,167.17 L435.94,167.18 L436.46,167.19 L436.98,167.2 L437.5,167.21 L438.03,167.22 L438.55,167.23 L439.07,167.24 L439.6,167.25 L440.12,167.25 L440.64,167.26 L441.16,167.27 L441.68,167.27 L442.21,167.28 L442.73,167.29 L443.25,167.29 L443.77,167.29 L444.3,167.3 L444.82,167.3 L445.34,167.31 L445.87,167.31 L446.39,167.31 L446.91,167.31 L447.43,167.31 L447.95,167.32 L448.48,167.32 L449,167.32" fill="none" stroke="#333" stroke-width="1.6" stroke-dasharray="2.2 1.4"/>
<path d="M240,52 L240.52,56.2 L241.04,60.25 L241.57,64.16 L242.09,67.93 L242.61,71.58 L243.13,75.09 L243.66,78.48 L244.18,81.75 L244.7,84.9 L245.22,87.95 L245.75,90.89 L246.27,93.72 L246.79,96.46 L247.31,99.1 L247.84,101.65 L248.36,104.1 L248.88,106.47 L249.41,108.76 L249.93,110.97 L250.45,113.1 L250.97,115.16 L251.5,117.14 L252.02,119.06 L252.54,120.9 L253.06,122.68 L253.59,124.4 L254.11,126.06 L254.63,127.66 L255.15,129.21 L255.68,130.7 L256.2,132.14 L256.72,133.53 L257.24,134.87 L257.76,136.16 L258.29,137.41 L258.81,138.61 L259.33,139.77 L259.86,140.89 L260.38,141.97 L260.9,143.01 L261.42,144.02 L261.94,144.99 L262.47,145.93 L262.99,146.83 L263.51,147.7 L264.03,148.55 L264.56,149.36 L265.08,150.14 L265.6,150.9 L266.12,151.63 L266.65,152.33 L267.17,153.01 L267.69,153.67 L268.21,154.3 L268.74,154.91 L269.26,155.5 L269.78,156.07 L270.31,156.62 L270.83,157.15 L271.35,157.66 L271.87,158.15 L272.39,158.62 L272.92,159.08 L273.44,159.53 L273.96,159.95 L274.49,160.37 L275.01,160.76 L275.53,161.15 L276.05,161.52 L276.57,161.87 L277.1,162.22 L277.62,162.55 L278.14,162.87 L278.67,163.18 L279.19,163.48 L279.71,163.77 L280.23,164.05 L280.75,164.32 L281.28,164.58 L281.8,164.83 L282.32,165.07 L282.85,165.3 L283.37,165.52 L283.89,165.74 L284.41,165.95 L284.94,166.15 L285.46,166.35 L285.98,166.53 L286.5,166.72 L287.02,166.89 L287.55,167.06 L288.07,167.22 L288.59,167.38 L289.12,167.53 L289.64,167.68 L290.16,167.82 L290.68,167.95 L291.2,168.09 L291.73,168.21 L292.25,168.33 L292.77,168.45 L293.3,168.57 L293.82,168.68 L294.34,168.78 L294.86,168.88 L295.38,168.98 L295.91,169.08 L296.43,169.17 L296.95,169.26 L297.48,169.35 L298,169.43 L298.52,169.51 L299.04,169.58 L299.56,169.66 L300.09,169.73 L300.61,169.8 L301.13,169.87 L301.65,169.93 L302.18,169.99 L302.7,170.05 L303.22,170.11 L303.75,170.17 L304.27,170.22 L304.79,170.27 L305.31,170.32 L305.83,170.37 L306.36,170.42 L306.88,170.46 L307.4,170.51 L307.93,170.55 L308.45,170.59 L308.97,170.63 L309.49,170.66 L310.01,170.7 L310.54,170.74 L311.06,170.77 L311.58,170.8 L312.11,170.83 L312.63,170.86 L313.15,170.89 L313.67,170.92 L314.19,170.95 L314.72,170.98 L315.24,171 L315.76,171.03 L316.28,171.05 L316.81,171.07 L317.33,171.09 L317.85,171.12 L318.38,171.14 L318.9,171.16 L319.42,171.17 L319.94,171.19 L320.46,171.21 L320.99,171.23 L321.51,171.24 L322.03,171.26 L322.56,171.28 L323.08,171.29 L323.6,171.31 L324.12,171.32 L324.64,171.33 L325.17,171.35 L325.69,171.36 L326.21,171.37 L326.74,171.38 L327.26,171.39 L327.78,171.4 L328.3,171.41 L328.82,171.42 L329.35,171.43 L329.87,171.44 L330.39,171.45 L330.91,171.46 L331.44,171.47 L331.96,171.48 L332.48,171.48 L333,171.49 L333.53,171.5 L334.05,171.51 L334.57,171.51 L335.1,171.52 L335.62,171.53 L336.14,171.53 L336.66,171.54 L337.19,171.54 L337.71,171.55 L338.23,171.55 L338.75,171.56 L339.27,171.56 L339.8,171.57 L340.32,171.57 L340.84,171.58 L341.37,171.58 L341.89,171.59 L342.41,171.59 L342.93,171.59 L343.45,171.6 L343.98,171.6 L344.5,171.61 L345.02,171.61 L345.54,171.61 L346.07,171.61 L346.59,171.62 L347.11,171.62 L347.63,171.62 L348.16,171.63 L348.68,171.63 L349.2,171.63 L349.73,171.63 L350.25,171.64 L350.77,171.64 L351.29,171.64 L351.81,171.64 L352.34,171.64 L352.86,171.65 L353.38,171.65 L353.9,171.65 L354.43,171.65 L354.95,171.65 L355.47,171.66 L356,171.66 L356.52,171.66 L357.04,171.66 L357.56,171.66 L358.08,171.66 L358.61,171.66 L359.13,171.67 L359.65,171.67 L360.18,171.67 L360.7,171.67 L361.22,171.67 L361.74,171.67 L362.26,171.67 L362.79,171.67 L363.31,171.67 L363.83,171.67 L364.36,171.68 L364.88,171.68 L365.4,171.68 L365.92,171.68 L366.44,171.68 L366.97,171.68 L367.49,171.68 L368.01,171.68 L368.53,171.68 L369.06,171.68 L369.58,171.68 L370.1,171.68 L370.62,171.68 L371.15,171.68 L371.67,171.69 L372.19,171.69 L372.72,171.69 L373.24,171.69 L373.76,171.69 L374.28,171.69 L374.8,171.69 L375.33,171.69 L375.85,171.69 L376.37,171.69 L376.89,171.69 L377.42,171.69 L377.94,171.69 L378.46,171.69 L378.99,171.69 L379.51,171.69 L380.03,171.69 L380.55,171.69 L381.07,171.69 L381.6,171.69 L382.12,171.69 L382.64,171.69 L383.16,171.69 L383.69,171.69 L384.21,171.69 L384.73,171.69 L385.25,171.69 L385.78,171.69 L386.3,171.69 L386.82,171.69 L387.35,171.69 L387.87,171.7 L388.39,171.7 L388.91,171.7 L389.44,171.7 L389.96,171.7 L390.48,171.7 L391,171.7 L391.52,171.7 L392.05,171.7 L392.57,171.7 L393.09,171.7 L393.62,171.7 L394.14,171.7 L394.66,171.7 L395.18,171.7 L395.7,171.7 L396.23,171.7 L396.75,171.7 L397.27,171.7 L397.79,171.7 L398.32,171.7 L398.84,171.7 L399.36,171.7 L399.88,171.7 L400.41,171.7 L400.93,171.7 L401.45,171.7 L401.98,171.7 L402.5,171.7 L403.02,171.7 L403.54,171.7 L404.06,171.7 L404.59,171.7 L405.11,171.7 L405.63,171.7 L406.15,171.7 L406.68,171.7 L407.2,171.7 L407.72,171.7 L408.25,171.7 L408.77,171.7 L409.29,171.7 L409.81,171.7 L410.33,171.7 L410.86,171.7 L411.38,171.7 L411.9,171.7 L412.42,171.7 L412.95,171.7 L413.47,171.7 L413.99,171.7 L414.51,171.7 L415.04,171.7 L415.56,171.7 L416.08,171.7 L416.61,171.7 L417.13,171.7 L417.65,171.7 L418.17,171.7 L418.69,171.7 L419.22,171.7 L419.74,171.7 L420.26,171.7 L420.78,171.7 L421.31,171.7 L421.83,171.7 L422.35,171.7 L422.88,171.7 L423.4,171.7 L423.92,171.7 L424.44,171.7 L424.96,171.7 L425.49,171.7 L426.01,171.7 L426.53,171.7 L427.05,171.7 L427.58,171.7 L428.1,171.7 L428.62,171.7 L429.14,171.7 L429.67,171.7 L430.19,171.7 L430.71,171.7 L431.24,171.7 L431.76,171.7 L432.28,171.7 L432.8,171.7 L433.32,171.7 L433.85,171.7 L434.37,171.7 L434.89,171.7 L435.41,171.7 L435.94,171.7 L436.46,171.7 L436.98,171.7 L437.5,171.7 L438.03,171.7 L438.55,171.7 L439.07,171.7 L439.6,171.7 L440.12,171.7 L440.64,171.7 L441.16,171.7 L441.68,171.7 L442.21,171.7 L442.73,171.7 L443.25,171.7 L443.77,171.7 L444.3,171.7 L444.82,171.7 L445.34,171.7 L445.87,171.7 L446.39,171.7 L446.91,171.7 L447.43,171.7 L447.95,171.7 L448.48,171.7 L449,171.7" fill="none" stroke="#959595" stroke-width="1.7" stroke-dasharray="4.6 1.3"/>
<circle cx="270.31" cy="148.33" r="3" fill="#9a9a9a"/>
<path d="M240,52 L240.52,56.12 L241.04,60.1 L241.57,63.93 L242.09,67.63 L242.61,71.19 L243.13,74.63 L243.66,77.94 L244.18,81.13 L244.7,84.21 L245.22,87.18 L245.75,90.03 L246.27,92.79 L246.79,95.44 L247.31,97.99 L247.84,100.45 L248.36,102.82 L248.88,105.11 L249.41,107.3 L249.93,109.42 L250.45,111.45 L250.97,113.41 L251.5,115.3 L252.02,117.11 L252.54,118.85 L253.06,120.53 L253.59,122.14 L254.11,123.69 L254.63,125.17 L255.15,126.6 L255.68,127.97 L256.2,129.28 L256.72,130.54 L257.24,131.74 L257.76,132.9 L258.29,134.01 L258.81,135.06 L259.33,136.08 L259.86,137.04 L260.38,137.96 L260.9,138.84 L261.42,139.68 L261.94,140.47 L262.47,141.23 L262.99,141.95 L263.51,142.63 L264.03,143.27 L264.56,143.87 L265.08,144.44 L265.6,144.98 L266.12,145.48 L266.65,145.95 L267.17,146.38 L267.69,146.79 L268.21,147.16 L268.74,147.5 L269.26,147.8 L269.78,148.08 L270.31,148.33 L270.83,148.56 L271.35,148.79 L271.87,149.02 L272.39,149.25 L272.92,149.47 L273.44,149.69 L273.96,149.91 L274.49,150.12 L275.01,150.34 L275.53,150.55 L276.05,150.76 L276.57,150.97 L277.1,151.17 L277.62,151.38 L278.14,151.58 L278.67,151.78 L279.19,151.98 L279.71,152.17 L280.23,152.37 L280.75,152.56 L281.28,152.75 L281.8,152.93 L282.32,153.12 L282.85,153.31 L283.37,153.49 L283.89,153.67 L284.41,153.85 L284.94,154.02 L285.46,154.2 L285.98,154.37 L286.5,154.54 L287.02,154.71 L287.55,154.88 L288.07,155.05 L288.59,155.21 L289.12,155.38 L289.64,155.54 L290.16,155.7 L290.68,155.86 L291.2,156.01 L291.73,156.17 L292.25,156.32 L292.77,156.48 L293.3,156.63 L293.82,156.78 L294.34,156.92 L294.86,157.07 L295.38,157.21 L295.91,157.36 L296.43,157.5 L296.95,157.64 L297.48,157.78 L298,157.92 L298.52,158.05 L299.04,158.19 L299.56,158.32 L300.09,158.45 L300.61,158.59 L301.13,158.71 L301.65,158.84 L302.18,158.97 L302.7,159.1 L303.22,159.22 L303.75,159.34 L304.27,159.47 L304.79,159.59 L305.31,159.71 L305.83,159.82 L306.36,159.94 L306.88,160.06 L307.4,160.17 L307.93,160.29 L308.45,160.4 L308.97,160.51 L309.49,160.62 L310.01,160.73 L310.54,160.84 L311.06,160.94 L311.58,161.05 L312.11,161.16 L312.63,161.26 L313.15,161.36 L313.67,161.46 L314.19,161.56 L314.72,161.66 L315.24,161.76 L315.76,161.86 L316.28,161.96 L316.81,162.05 L317.33,162.15 L317.85,162.24 L318.38,162.33 L318.9,162.43 L319.42,162.52 L319.94,162.61 L320.46,162.7 L320.99,162.78 L321.51,162.87 L322.03,162.96 L322.56,163.04 L323.08,163.13 L323.6,163.21 L324.12,163.3 L324.64,163.38 L325.17,163.46 L325.69,163.54 L326.21,163.62 L326.74,163.7 L327.26,163.78 L327.78,163.85 L328.3,163.93 L328.82,164.01 L329.35,164.08 L329.87,164.16 L330.39,164.23 L330.91,164.3 L331.44,164.37 L331.96,164.45 L332.48,164.52 L333,164.59 L333.53,164.66 L334.05,164.72 L334.57,164.79 L335.1,164.86 L335.62,164.92 L336.14,164.99 L336.66,165.06 L337.19,165.12 L337.71,165.18 L338.23,165.25 L338.75,165.31 L339.27,165.37 L339.8,165.43 L340.32,165.49 L340.84,165.55 L341.37,165.61 L341.89,165.67 L342.41,165.73 L342.93,165.79 L343.45,165.84 L343.98,165.9 L344.5,165.95 L345.02,166.01 L345.54,166.06 L346.07,166.12 L346.59,166.17 L347.11,166.22 L347.63,166.28 L348.16,166.33 L348.68,166.38 L349.2,166.43 L349.73,166.48 L350.25,166.53 L350.77,166.58 L351.29,166.63 L351.81,166.68 L352.34,166.72 L352.86,166.77 L353.38,166.82 L353.9,166.86 L354.43,166.91 L354.95,166.95 L355.47,167 L356,167.04 L356.52,167.09 L357.04,167.13 L357.56,167.17 L358.08,167.22 L358.61,167.26 L359.13,167.3 L359.65,167.34 L360.18,167.38 L360.7,167.42 L361.22,167.46 L361.74,167.5 L362.26,167.54 L362.79,167.58 L363.31,167.62 L363.83,167.65 L364.36,167.69 L364.88,167.73 L365.4,167.76 L365.92,167.8 L366.44,167.84 L366.97,167.87 L367.49,167.91 L368.01,167.94 L368.53,167.97 L369.06,168.01 L369.58,168.04 L370.1,168.07 L370.62,168.11 L371.15,168.14 L371.67,168.17 L372.19,168.2 L372.72,168.23 L373.24,168.27 L373.76,168.3 L374.28,168.33 L374.8,168.36 L375.33,168.39 L375.85,168.41 L376.37,168.44 L376.89,168.47 L377.42,168.5 L377.94,168.53 L378.46,168.56 L378.99,168.58 L379.51,168.61 L380.03,168.64 L380.55,168.66 L381.07,168.69 L381.6,168.72 L382.12,168.74 L382.64,168.77 L383.16,168.79 L383.69,168.82 L384.21,168.84 L384.73,168.86 L385.25,168.89 L385.78,168.91 L386.3,168.93 L386.82,168.96 L387.35,168.98 L387.87,169 L388.39,169.02 L388.91,169.05 L389.44,169.07 L389.96,169.09 L390.48,169.11 L391,169.13 L391.52,169.15 L392.05,169.17 L392.57,169.19 L393.09,169.21 L393.62,169.23 L394.14,169.25 L394.66,169.27 L395.18,169.29 L395.7,169.31 L396.23,169.33 L396.75,169.34 L397.27,169.36 L397.79,169.38 L398.32,169.4 L398.84,169.41 L399.36,169.43 L399.88,169.45 L400.41,169.46 L400.93,169.48 L401.45,169.5 L401.98,169.51 L402.5,169.53 L403.02,169.54 L403.54,169.56 L404.06,169.57 L404.59,169.59 L405.11,169.6 L405.63,169.62 L406.15,169.63 L406.68,169.64 L407.2,169.66 L407.72,169.67 L408.25,169.68 L408.77,169.7 L409.29,169.71 L409.81,169.72 L410.33,169.74 L410.86,169.75 L411.38,169.76 L411.9,169.77 L412.42,169.78 L412.95,169.79 L413.47,169.81 L413.99,169.82 L414.51,169.83 L415.04,169.84 L415.56,169.85 L416.08,169.86 L416.61,169.87 L417.13,169.88 L417.65,169.89 L418.17,169.9 L418.69,169.91 L419.22,169.92 L419.74,169.93 L420.26,169.94 L420.78,169.94 L421.31,169.95 L421.83,169.96 L422.35,169.97 L422.88,169.98 L423.4,169.99 L423.92,169.99 L424.44,170 L424.96,170.01 L425.49,170.02 L426.01,170.02 L426.53,170.03 L427.05,170.04 L427.58,170.04 L428.1,170.05 L428.62,170.06 L429.14,170.06 L429.67,170.07 L430.19,170.07 L430.71,170.08 L431.24,170.08 L431.76,170.09 L432.28,170.09 L432.8,170.1 L433.32,170.1 L433.85,170.11 L434.37,170.11 L434.89,170.12 L435.41,170.12 L435.94,170.12 L436.46,170.13 L436.98,170.13 L437.5,170.14 L438.03,170.14 L438.55,170.14 L439.07,170.15 L439.6,170.15 L440.12,170.15 L440.64,170.15 L441.16,170.16 L441.68,170.16 L442.21,170.16 L442.73,170.16 L443.25,170.16 L443.77,170.17 L444.3,170.17 L444.82,170.17 L445.34,170.17 L445.87,170.17 L446.39,170.17 L446.91,170.17 L447.43,170.17 L447.95,170.17 L448.48,170.17 L449,170.17" fill="none" stroke="#111" stroke-width="1.35"/>
<text x="213.2" y="112" font-family="'Liberation Serif', serif" font-size="13.5" fill="#3a3a3a" stroke="#3a3a3a" stroke-width="0.15" text-anchor="middle" textLength="20.6" lengthAdjust="spacingAndGlyphs" transform="rotate(-90 213.2 112)"><tspan font-style="italic">c</tspan>(<tspan font-style="italic">x</tspan>)</text>
<g fill="none" stroke="#2a2a2a" stroke-linecap="round">
<path d="M345,202.83 L343.64,207.49" stroke-width="1.01"/>
<path d="M341.19,204.36 C341.48,202.47 343.2,201.76 345,202.94 C345.58,202.12 346.8,202 347.38,203.06" stroke-width="0.54"/>
<path d="M341.62,206.96 C341.98,207.9 343.06,208.02 343.64,207.49 C344.5,208.19 346.66,207.61 347.52,205.54" stroke-width="0.54"/>
</g>
<circle cx="347.24" cy="203.18" r="0.55" fill="#2a2a2a"/>
<circle cx="341.69" cy="206.9" r="0.55" fill="#2a2a2a"/>
<path d="M371.2,97.2 L399,97.2" fill="none" stroke="#333" stroke-width="1.6" stroke-dasharray="2.2 1.4"/>
<path d="M371.2,111.7 L399,111.7" fill="none" stroke="#959595" stroke-width="1.7" stroke-dasharray="4.6 1.3"/>
<path d="M371.2,126 L399,126" fill="none" stroke="#111" stroke-width="1.35"/>
<text x="404.3" y="100.2" font-family="'Liberation Sans', sans-serif" font-size="8.35" fill="#111" font-weight="bold" font-style="normal" text-anchor="start" stroke="#111" stroke-width="0.15">columnar</text>
<text x="404.3" y="114.7" font-family="'Liberation Sans', sans-serif" font-size="8.35" fill="#111" font-weight="bold" font-style="normal" text-anchor="start" stroke="#111" stroke-width="0.15">squamous</text>
<text x="404.3" y="129" font-family="'Liberation Sans', sans-serif" font-size="8.35" fill="#111" font-weight="bold" font-style="normal" text-anchor="start" stroke="#111" stroke-width="0.15">crossover</text>
<path d="M235.4,45.4 L453.3,45.4" fill="none" stroke="#707070" stroke-width="1.6"/>
<rect x="244.5" y="272.5" width="226.5" height="139.7" fill="none" stroke="#b8b8b8" stroke-width="1.2"/>
<path d="M244.5,405.5 L247.7,405.5" fill="none" stroke="#707070" stroke-width="0.9"/>
<path d="M471,405.5 L467.8,405.5" fill="none" stroke="#707070" stroke-width="0.9"/>
<path d="M244.5,380.26 L247.7,380.26" fill="none" stroke="#707070" stroke-width="0.9"/>
<path d="M471,380.26 L467.8,380.26" fill="none" stroke="#707070" stroke-width="0.9"/>
<path d="M244.5,355.02 L247.7,355.02" fill="none" stroke="#707070" stroke-width="0.9"/>
<path d="M471,355.02 L467.8,355.02" fill="none" stroke="#707070" stroke-width="0.9"/>
<path d="M244.5,329.78 L247.7,329.78" fill="none" stroke="#707070" stroke-width="0.9"/>
<path d="M471,329.78 L467.8,329.78" fill="none" stroke="#707070" stroke-width="0.9"/>
<path d="M244.5,304.54 L247.7,304.54" fill="none" stroke="#707070" stroke-width="0.9"/>
<path d="M471,304.54 L467.8,304.54" fill="none" stroke="#707070" stroke-width="0.9"/>
<path d="M244.5,279.3 L247.7,279.3" fill="none" stroke="#707070" stroke-width="0.9"/>
<path d="M471,279.3 L467.8,279.3" fill="none" stroke="#707070" stroke-width="0.9"/>
<path d="M244.5,399.19 L246.5,399.19" fill="none" stroke="#909090" stroke-width="0.8"/>
<path d="M471,399.19 L469,399.19" fill="none" stroke="#909090" stroke-width="0.8"/>
<path d="M244.5,392.88 L246.5,392.88" fill="none" stroke="#909090" stroke-width="0.8"/>
<path d="M471,392.88 L469,392.88" fill="none" stroke="#909090" stroke-width="0.8"/>
<path d="M244.5,386.57 L246.5,386.57" fill="none" stroke="#909090" stroke-width="0.8"/>
<path d="M471,386.57 L469,386.57" fill="none" stroke="#909090" stroke-width="0.8"/>
<path d="M244.5,373.95 L246.5,373.95" fill="none" stroke="#909090" stroke-width="0.8"/>
<path d="M471,373.95 L469,373.95" fill="none" stroke="#909090" stroke-width="0.8"/>
<path d="M244.5,367.64 L246.5,367.64" fill="none" stroke="#909090" stroke-width="0.8"/>
<path d="M471,367.64 L469,367.64" fill="none" stroke="#909090" stroke-width="0.8"/>
<path d="M244.5,361.33 L246.5,361.33" fill="none" stroke="#909090" stroke-width="0.8"/>
<path d="M471,361.33 L469,361.33" fill="none" stroke="#909090" stroke-width="0.8"/>
<path d="M244.5,348.71 L246.5,348.71" fill="none" stroke="#909090" stroke-width="0.8"/>
<path d="M471,348.71 L469,348.71" fill="none" stroke="#909090" stroke-width="0.8"/>
<path d="M244.5,342.4 L246.5,342.4" fill="none" stroke="#909090" stroke-width="0.8"/>
<path d="M471,342.4 L469,342.4" fill="none" stroke="#909090" stroke-width="0.8"/>
<path d="M244.5,336.09 L246.5,336.09" fill="none" stroke="#909090" stroke-width="0.8"/>
<path d="M471,336.09 L469,336.09" fill="none" stroke="#909090" stroke-width="0.8"/>
<path d="M244.5,323.47 L246.5,323.47" fill="none" stroke="#909090" stroke-width="0.8"/>
<path d="M471,323.47 L469,323.47" fill="none" stroke="#909090" stroke-width="0.8"/>
<path d="M244.5,317.16 L246.5,317.16" fill="none" stroke="#909090" stroke-width="0.8"/>
<path d="M471,317.16 L469,317.16" fill="none" stroke="#909090" stroke-width="0.8"/>
<path d="M244.5,310.85 L246.5,310.85" fill="none" stroke="#909090" stroke-width="0.8"/>
<path d="M471,310.85 L469,310.85" fill="none" stroke="#909090" stroke-width="0.8"/>
<path d="M244.5,298.23 L246.5,298.23" fill="none" stroke="#909090" stroke-width="0.8"/>
<path d="M471,298.23 L469,298.23" fill="none" stroke="#909090" stroke-width="0.8"/>
<path d="M244.5,291.92 L246.5,291.92" fill="none" stroke="#909090" stroke-width="0.8"/>
<path d="M471,291.92 L469,291.92" fill="none" stroke="#909090" stroke-width="0.8"/>
<path d="M244.5,285.61 L246.5,285.61" fill="none" stroke="#909090" stroke-width="0.8"/>
<path d="M471,285.61 L469,285.61" fill="none" stroke="#909090" stroke-width="0.8"/>
<path d="M248.7,412.2 L248.7,409" fill="none" stroke="#707070" stroke-width="0.9"/>
<path d="M248.7,272.5 L248.7,275.7" fill="none" stroke="#707070" stroke-width="0.9"/>
<path d="M292.28,412.2 L292.28,409" fill="none" stroke="#707070" stroke-width="0.9"/>
<path d="M292.28,272.5 L292.28,275.7" fill="none" stroke="#707070" stroke-width="0.9"/>
<path d="M335.86,412.2 L335.86,409" fill="none" stroke="#707070" stroke-width="0.9"/>
<path d="M335.86,272.5 L335.86,275.7" fill="none" stroke="#707070" stroke-width="0.9"/>
<path d="M379.44,412.2 L379.44,409" fill="none" stroke="#707070" stroke-width="0.9"/>
<path d="M379.44,272.5 L379.44,275.7" fill="none" stroke="#707070" stroke-width="0.9"/>
<path d="M423.02,412.2 L423.02,409" fill="none" stroke="#707070" stroke-width="0.9"/>
<path d="M423.02,272.5 L423.02,275.7" fill="none" stroke="#707070" stroke-width="0.9"/>
<path d="M466.6,412.2 L466.6,409" fill="none" stroke="#707070" stroke-width="0.9"/>
<path d="M466.6,272.5 L466.6,275.7" fill="none" stroke="#707070" stroke-width="0.9"/>
<path d="M259.59,412.2 L259.59,410.2" fill="none" stroke="#909090" stroke-width="0.8"/>
<path d="M259.59,272.5 L259.59,274.5" fill="none" stroke="#909090" stroke-width="0.8"/>
<path d="M270.49,412.2 L270.49,410.2" fill="none" stroke="#909090" stroke-width="0.8"/>
<path d="M270.49,272.5 L270.49,274.5" fill="none" stroke="#909090" stroke-width="0.8"/>
<path d="M281.38,412.2 L281.38,410.2" fill="none" stroke="#909090" stroke-width="0.8"/>
<path d="M281.38,272.5 L281.38,274.5" fill="none" stroke="#909090" stroke-width="0.8"/>
<path d="M303.17,412.2 L303.17,410.2" fill="none" stroke="#909090" stroke-width="0.8"/>
<path d="M303.17,272.5 L303.17,274.5" fill="none" stroke="#909090" stroke-width="0.8"/>
<path d="M314.07,412.2 L314.07,410.2" fill="none" stroke="#909090" stroke-width="0.8"/>
<path d="M314.07,272.5 L314.07,274.5" fill="none" stroke="#909090" stroke-width="0.8"/>
<path d="M324.96,412.2 L324.96,410.2" fill="none" stroke="#909090" stroke-width="0.8"/>
<path d="M324.96,272.5 L324.96,274.5" fill="none" stroke="#909090" stroke-width="0.8"/>
<path d="M346.75,412.2 L346.75,410.2" fill="none" stroke="#909090" stroke-width="0.8"/>
<path d="M346.75,272.5 L346.75,274.5" fill="none" stroke="#909090" stroke-width="0.8"/>
<path d="M357.65,412.2 L357.65,410.2" fill="none" stroke="#909090" stroke-width="0.8"/>
<path d="M357.65,272.5 L357.65,274.5" fill="none" stroke="#909090" stroke-width="0.8"/>
<path d="M368.54,412.2 L368.54,410.2" fill="none" stroke="#909090" stroke-width="0.8"/>
<path d="M368.54,272.5 L368.54,274.5" fill="none" stroke="#909090" stroke-width="0.8"/>
<path d="M390.33,412.2 L390.33,410.2" fill="none" stroke="#909090" stroke-width="0.8"/>
<path d="M390.33,272.5 L390.33,274.5" fill="none" stroke="#909090" stroke-width="0.8"/>
<path d="M401.23,412.2 L401.23,410.2" fill="none" stroke="#909090" stroke-width="0.8"/>
<path d="M401.23,272.5 L401.23,274.5" fill="none" stroke="#909090" stroke-width="0.8"/>
<path d="M412.12,412.2 L412.12,410.2" fill="none" stroke="#909090" stroke-width="0.8"/>
<path d="M412.12,272.5 L412.12,274.5" fill="none" stroke="#909090" stroke-width="0.8"/>
<path d="M433.91,412.2 L433.91,410.2" fill="none" stroke="#909090" stroke-width="0.8"/>
<path d="M433.91,272.5 L433.91,274.5" fill="none" stroke="#909090" stroke-width="0.8"/>
<path d="M444.81,412.2 L444.81,410.2" fill="none" stroke="#909090" stroke-width="0.8"/>
<path d="M444.81,272.5 L444.81,274.5" fill="none" stroke="#909090" stroke-width="0.8"/>
<path d="M455.7,412.2 L455.7,410.2" fill="none" stroke="#909090" stroke-width="0.8"/>
<path d="M455.7,272.5 L455.7,274.5" fill="none" stroke="#909090" stroke-width="0.8"/>
<text x="242.4" y="408.6" font-family="'Liberation Sans', sans-serif" font-size="8.6" fill="#111" font-weight="bold" font-style="normal" text-anchor="end" stroke="#111" stroke-width="0.15">0</text>
<text x="242.4" y="383.36" font-family="'Liberation Sans', sans-serif" font-size="8.6" fill="#111" font-weight="bold" font-style="normal" text-anchor="end" stroke="#111" stroke-width="0.15">2</text>
<text x="242.4" y="358.12" font-family="'Liberation Sans', sans-serif" font-size="8.6" fill="#111" font-weight="bold" font-style="normal" text-anchor="end" stroke="#111" stroke-width="0.15">4</text>
<text x="242.4" y="332.88" font-family="'Liberation Sans', sans-serif" font-size="8.6" fill="#111" font-weight="bold" font-style="normal" text-anchor="end" stroke="#111" stroke-width="0.15">6</text>
<text x="242.4" y="307.64" font-family="'Liberation Sans', sans-serif" font-size="8.6" fill="#111" font-weight="bold" font-style="normal" text-anchor="end" stroke="#111" stroke-width="0.15">8</text>
<text x="242.4" y="282.4" font-family="'Liberation Sans', sans-serif" font-size="8.6" fill="#111" font-weight="bold" font-style="normal" text-anchor="end" stroke="#111" stroke-width="0.15">10</text>
<text x="248.7" y="423.8" font-family="'Liberation Sans', sans-serif" font-size="8.6" fill="#111" font-weight="bold" font-style="normal" text-anchor="middle" stroke="#111" stroke-width="0.15">0</text>
<text x="292.28" y="423.8" font-family="'Liberation Sans', sans-serif" font-size="8.6" fill="#111" font-weight="bold" font-style="normal" text-anchor="middle" stroke="#111" stroke-width="0.15">20</text>
<text x="335.86" y="423.8" font-family="'Liberation Sans', sans-serif" font-size="8.6" fill="#111" font-weight="bold" font-style="normal" text-anchor="middle" stroke="#111" stroke-width="0.15">40</text>
<text x="379.44" y="423.8" font-family="'Liberation Sans', sans-serif" font-size="8.6" fill="#111" font-weight="bold" font-style="normal" text-anchor="middle" stroke="#111" stroke-width="0.15">60</text>
<text x="423.02" y="423.8" font-family="'Liberation Sans', sans-serif" font-size="8.6" fill="#111" font-weight="bold" font-style="normal" text-anchor="middle" stroke="#111" stroke-width="0.15">80</text>
<text x="466.6" y="423.8" font-family="'Liberation Sans', sans-serif" font-size="8.6" fill="#111" font-weight="bold" font-style="normal" text-anchor="middle" stroke="#111" stroke-width="0.15">100</text>
<path d="M248.7,279.3 L249.24,280.31 L249.79,281.31 L250.33,282.31 L250.88,283.3 L251.42,284.28 L251.97,285.25 L252.51,286.21 L253.06,287.17 L253.6,288.12 L254.15,289.06 L254.69,289.99 L255.24,290.91 L255.78,291.83 L256.33,292.74 L256.87,293.65 L257.42,294.54 L257.96,295.43 L258.51,296.31 L259.05,297.19 L259.59,298.05 L260.14,298.91 L260.68,299.77 L261.23,300.61 L261.77,301.45 L262.32,302.29 L262.86,303.11 L263.41,303.93 L263.95,304.75 L264.5,305.55 L265.04,306.35 L265.59,307.15 L266.13,307.93 L266.68,308.72 L267.22,309.49 L267.77,310.26 L268.31,311.02 L268.86,311.78 L269.4,312.53 L269.95,313.27 L270.49,314.01 L271.03,314.74 L271.58,315.47 L272.12,316.19 L272.67,316.9 L273.21,317.61 L273.76,318.31 L274.3,319.01 L274.85,319.7 L275.39,320.39 L275.94,321.07 L276.48,321.74 L277.03,322.41 L277.57,323.07 L278.12,323.73 L278.66,324.39 L279.21,325.03 L279.75,325.68 L280.3,326.32 L280.84,326.95 L281.38,327.58 L281.93,328.2 L282.47,328.82 L283.02,329.43 L283.56,330.03 L284.11,330.64 L284.65,331.23 L285.2,331.83 L285.74,332.42 L286.29,333 L286.83,333.58 L287.38,334.15 L287.92,334.72 L288.47,335.29 L289.01,335.85 L289.56,336.4 L290.1,336.95 L290.65,337.5 L291.19,338.04 L291.74,338.58 L292.28,339.11 L292.82,339.64 L293.37,340.17 L293.91,340.69 L294.46,341.2 L295,341.71 L295.55,342.22 L296.09,342.73 L296.64,343.23 L297.18,343.72 L297.73,344.21 L298.27,344.7 L298.82,345.19 L299.36,345.67 L299.91,346.14 L300.45,346.61 L301,347.08 L301.54,347.55 L302.09,348.01 L302.63,348.46 L303.17,348.92 L303.72,349.37 L304.26,349.81 L304.81,350.25 L305.35,350.69 L305.9,351.13 L306.44,351.56 L306.99,351.99 L307.53,352.41 L308.08,352.83 L308.62,353.25 L309.17,353.67 L309.71,354.08 L310.26,354.49 L310.8,354.89 L311.35,355.29 L311.89,355.69 L312.44,356.08 L312.98,356.47 L313.53,356.86 L314.07,357.25 L314.61,357.63 L315.16,358.01 L315.7,358.38 L316.25,358.76 L316.79,359.13 L317.34,359.49 L317.88,359.86 L318.43,360.22 L318.97,360.57 L319.52,360.93 L320.06,361.28 L320.61,361.63 L321.15,361.98 L321.7,362.32 L322.24,362.66 L322.79,363 L323.33,363.33 L323.88,363.66 L324.42,363.99 L324.96,364.32 L325.51,364.64 L326.05,364.97 L326.6,365.28 L327.14,365.6 L327.69,365.91 L328.23,366.22 L328.78,366.53 L329.32,366.84 L329.87,367.14 L330.41,367.44 L330.96,367.74 L331.5,368.04 L332.05,368.33 L332.59,368.62 L333.14,368.91 L333.68,369.2 L334.23,369.48 L334.77,369.76 L335.32,370.04 L335.86,370.32 L336.4,370.59 L336.95,370.87 L337.49,371.14 L338.04,371.4 L338.58,371.67 L339.13,371.93 L339.67,372.19 L340.22,372.45 L340.76,372.71 L341.31,372.96 L341.85,373.22 L342.4,373.47 L342.94,373.72 L343.49,373.96 L344.03,374.21 L344.58,374.45 L345.12,374.69 L345.67,374.93 L346.21,375.17 L346.75,375.4 L347.3,375.63 L347.84,375.86 L348.39,376.09 L348.93,376.32 L349.48,376.54 L350.02,376.77 L350.57,376.99 L351.11,377.21 L351.66,377.42 L352.2,377.64 L352.75,377.85 L353.29,378.06 L353.84,378.27 L354.38,378.48 L354.93,378.69 L355.47,378.89 L356.02,379.1 L356.56,379.3 L357.11,379.5 L357.65,379.7 L358.19,379.89 L358.74,380.09 L359.28,380.28 L359.83,380.47 L360.37,380.66 L360.92,380.85 L361.46,381.04 L362.01,381.22 L362.55,381.4 L363.1,381.59 L363.64,381.77 L364.19,381.95 L364.73,382.12 L365.28,382.3 L365.82,382.47 L366.37,382.64 L366.91,382.82 L367.46,382.99 L368,383.15 L368.54,383.32 L369.09,383.49 L369.63,383.65 L370.18,383.81 L370.72,383.97 L371.27,384.13 L371.81,384.29 L372.36,384.45 L372.9,384.6 L373.45,384.76 L373.99,384.91 L374.54,385.06 L375.08,385.21 L375.63,385.36 L376.17,385.51 L376.72,385.65 L377.26,385.8 L377.81,385.94 L378.35,386.09 L378.9,386.23 L379.44,386.37 L379.98,386.5 L380.53,386.64 L381.07,386.78 L381.62,386.91 L382.16,387.05 L382.71,387.18 L383.25,387.31 L383.8,387.44 L384.34,387.57 L384.89,387.7 L385.43,387.82 L385.98,387.95 L386.52,388.07 L387.07,388.2 L387.61,388.32 L388.16,388.44 L388.7,388.56 L389.25,388.68 L389.79,388.8 L390.33,388.91 L390.88,389.03 L391.42,389.14 L391.97,389.26 L392.51,389.37 L393.06,389.48 L393.6,389.59 L394.15,389.7 L394.69,389.81 L395.24,389.91 L395.78,390.02 L396.33,390.13 L396.87,390.23 L397.42,390.33 L397.96,390.44 L398.51,390.54 L399.05,390.64 L399.6,390.74 L400.14,390.83 L400.69,390.93 L401.23,391.03 L401.77,391.12 L402.32,391.22 L402.86,391.31 L403.41,391.4 L403.95,391.5 L404.5,391.59 L405.04,391.68 L405.59,391.77 L406.13,391.85 L406.68,391.94 L407.22,392.03 L407.77,392.11 L408.31,392.2 L408.86,392.28 L409.4,392.36 L409.95,392.45 L410.49,392.53 L411.04,392.61 L411.58,392.69 L412.12,392.76 L412.67,392.84 L413.21,392.92 L413.76,393 L414.3,393.07 L414.85,393.15 L415.39,393.22 L415.94,393.29 L416.48,393.36 L417.03,393.44 L417.57,393.51 L418.12,393.58 L418.66,393.65 L419.21,393.71 L419.75,393.78 L420.3,393.85 L420.84,393.91 L421.39,393.98 L421.93,394.04 L422.48,394.11 L423.02,394.17 L423.56,394.23 L424.11,394.29 L424.65,394.35 L425.2,394.41 L425.74,394.47 L426.29,394.53 L426.83,394.59 L427.38,394.65 L427.92,394.7 L428.47,394.76 L429.01,394.81 L429.56,394.87 L430.1,394.92 L430.65,394.98 L431.19,395.03 L431.74,395.08 L432.28,395.13 L432.83,395.18 L433.37,395.23 L433.91,395.28 L434.46,395.33 L435,395.38 L435.55,395.42 L436.09,395.47 L436.64,395.51 L437.18,395.56 L437.73,395.6 L438.27,395.65 L438.82,395.69 L439.36,395.73 L439.91,395.77 L440.45,395.82 L441,395.86 L441.54,395.9 L442.09,395.94 L442.63,395.97 L443.18,396.01 L443.72,396.05 L444.27,396.09 L444.81,396.12 L445.35,396.16 L445.9,396.19 L446.44,396.23 L446.99,396.26 L447.53,396.29 L448.08,396.33 L448.62,396.36 L449.17,396.39 L449.71,396.42 L450.26,396.45 L450.8,396.48 L451.35,396.51 L451.89,396.54 L452.44,396.57 L452.98,396.59 L453.53,396.62 L454.07,396.65 L454.62,396.67 L455.16,396.7 L455.7,396.72 L456.25,396.75 L456.79,396.77 L457.34,396.79 L457.88,396.81 L458.43,396.84 L458.97,396.86 L459.52,396.88 L460.06,396.9 L460.61,396.92 L461.15,396.93 L461.7,396.95 L462.24,396.97 L462.79,396.99 L463.33,397 L463.88,397.02 L464.42,397.04 L464.97,397.05 L465.51,397.06 L466.06,397.08 L466.6,397.09" fill="none" stroke="#333" stroke-width="1.6" stroke-dasharray="2.2 1.4"/>
<path d="M248.7,279.3 L249.24,283.73 L249.79,288 L250.33,292.12 L250.88,296.1 L251.42,299.94 L251.97,303.64 L252.51,307.22 L253.06,310.66 L253.6,313.99 L254.15,317.2 L254.69,320.3 L255.24,323.29 L255.78,326.17 L256.33,328.96 L256.87,331.64 L257.42,334.23 L257.96,336.73 L258.51,339.15 L259.05,341.47 L259.59,343.72 L260.14,345.89 L260.68,347.98 L261.23,350 L261.77,351.94 L262.32,353.82 L262.86,355.64 L263.41,357.39 L263.95,359.07 L264.5,360.7 L265.04,362.27 L265.59,363.79 L266.13,365.25 L266.68,366.67 L267.22,368.03 L267.77,369.34 L268.31,370.61 L268.86,371.84 L269.4,373.02 L269.95,374.16 L270.49,375.26 L271.03,376.32 L271.58,377.34 L272.12,378.33 L272.67,379.28 L273.21,380.2 L273.76,381.09 L274.3,381.95 L274.85,382.77 L275.39,383.57 L275.94,384.34 L276.48,385.08 L277.03,385.8 L277.57,386.49 L278.12,387.16 L278.66,387.8 L279.21,388.42 L279.75,389.02 L280.3,389.6 L280.84,390.16 L281.38,390.69 L281.93,391.21 L282.47,391.71 L283.02,392.2 L283.56,392.67 L284.11,393.12 L284.65,393.55 L285.2,393.97 L285.74,394.37 L286.29,394.76 L286.83,395.14 L287.38,395.5 L287.92,395.86 L288.47,396.19 L289.01,396.52 L289.56,396.83 L290.1,397.14 L290.65,397.43 L291.19,397.72 L291.74,397.99 L292.28,398.25 L292.82,398.51 L293.37,398.75 L293.91,398.99 L294.46,399.22 L295,399.44 L295.55,399.65 L296.09,399.86 L296.64,400.05 L297.18,400.24 L297.73,400.43 L298.27,400.61 L298.82,400.78 L299.36,400.94 L299.91,401.1 L300.45,401.26 L301,401.41 L301.54,401.55 L302.09,401.69 L302.63,401.82 L303.17,401.95 L303.72,402.08 L304.26,402.2 L304.81,402.31 L305.35,402.42 L305.9,402.53 L306.44,402.64 L306.99,402.74 L307.53,402.83 L308.08,402.93 L308.62,403.02 L309.17,403.1 L309.71,403.19 L310.26,403.27 L310.8,403.35 L311.35,403.42 L311.89,403.5 L312.44,403.57 L312.98,403.63 L313.53,403.7 L314.07,403.76 L314.61,403.82 L315.16,403.88 L315.7,403.94 L316.25,403.99 L316.79,404.05 L317.34,404.1 L317.88,404.15 L318.43,404.19 L318.97,404.24 L319.52,404.28 L320.06,404.33 L320.61,404.37 L321.15,404.41 L321.7,404.45 L322.24,404.48 L322.79,404.52 L323.33,404.55 L323.88,404.59 L324.42,404.62 L324.96,404.65 L325.51,404.68 L326.05,404.71 L326.6,404.74 L327.14,404.76 L327.69,404.79 L328.23,404.81 L328.78,404.84 L329.32,404.86 L329.87,404.88 L330.41,404.91 L330.96,404.93 L331.5,404.95 L332.05,404.97 L332.59,404.98 L333.14,405 L333.68,405.02 L334.23,405.04 L334.77,405.05 L335.32,405.07 L335.86,405.08 L336.4,405.1 L336.95,405.11 L337.49,405.13 L338.04,405.14 L338.58,405.15 L339.13,405.16 L339.67,405.18 L340.22,405.19 L340.76,405.2 L341.31,405.21 L341.85,405.22 L342.4,405.23 L342.94,405.24 L343.49,405.25 L344.03,405.26 L344.58,405.26 L345.12,405.27 L345.67,405.28 L346.21,405.29 L346.75,405.3 L347.3,405.3 L347.84,405.31 L348.39,405.32 L348.93,405.32 L349.48,405.33 L350.02,405.34 L350.57,405.34 L351.11,405.35 L351.66,405.35 L352.2,405.36 L352.75,405.36 L353.29,405.37 L353.84,405.37 L354.38,405.38 L354.93,405.38 L355.47,405.38 L356.02,405.39 L356.56,405.39 L357.11,405.4 L357.65,405.4 L358.19,405.4 L358.74,405.41 L359.28,405.41 L359.83,405.41 L360.37,405.42 L360.92,405.42 L361.46,405.42 L362.01,405.43 L362.55,405.43 L363.1,405.43 L363.64,405.43 L364.19,405.44 L364.73,405.44 L365.28,405.44 L365.82,405.44 L366.37,405.44 L366.91,405.45 L367.46,405.45 L368,405.45 L368.54,405.45 L369.09,405.45 L369.63,405.45 L370.18,405.46 L370.72,405.46 L371.27,405.46 L371.81,405.46 L372.36,405.46 L372.9,405.46 L373.45,405.46 L373.99,405.47 L374.54,405.47 L375.08,405.47 L375.63,405.47 L376.17,405.47 L376.72,405.47 L377.26,405.47 L377.81,405.47 L378.35,405.47 L378.9,405.48 L379.44,405.48 L379.98,405.48 L380.53,405.48 L381.07,405.48 L381.62,405.48 L382.16,405.48 L382.71,405.48 L383.25,405.48 L383.8,405.48 L384.34,405.48 L384.89,405.48 L385.43,405.48 L385.98,405.48 L386.52,405.48 L387.07,405.49 L387.61,405.49 L388.16,405.49 L388.7,405.49 L389.25,405.49 L389.79,405.49 L390.33,405.49 L390.88,405.49 L391.42,405.49 L391.97,405.49 L392.51,405.49 L393.06,405.49 L393.6,405.49 L394.15,405.49 L394.69,405.49 L395.24,405.49 L395.78,405.49 L396.33,405.49 L396.87,405.49 L397.42,405.49 L397.96,405.49 L398.51,405.49 L399.05,405.49 L399.6,405.49 L400.14,405.49 L400.69,405.49 L401.23,405.49 L401.77,405.49 L402.32,405.49 L402.86,405.49 L403.41,405.5 L403.95,405.5 L404.5,405.5 L405.04,405.5 L405.59,405.5 L406.13,405.5 L406.68,405.5 L407.22,405.5 L407.77,405.5 L408.31,405.5 L408.86,405.5 L409.4,405.5 L409.95,405.5 L410.49,405.5 L411.04,405.5 L411.58,405.5 L412.12,405.5 L412.67,405.5 L413.21,405.5 L413.76,405.5 L414.3,405.5 L414.85,405.5 L415.39,405.5 L415.94,405.5 L416.48,405.5 L417.03,405.5 L417.57,405.5 L418.12,405.5 L418.66,405.5 L419.21,405.5 L419.75,405.5 L420.3,405.5 L420.84,405.5 L421.39,405.5 L421.93,405.5 L422.48,405.5 L423.02,405.5 L423.56,405.5 L424.11,405.5 L424.65,405.5 L425.2,405.5 L425.74,405.5 L426.29,405.5 L426.83,405.5 L427.38,405.5 L427.92,405.5 L428.47,405.5 L429.01,405.5 L429.56,405.5 L430.1,405.5 L430.65,405.5 L431.19,405.5 L431.74,405.5 L432.28,405.5 L432.83,405.5 L433.37,405.5 L433.91,405.5 L434.46,405.5 L435,405.5 L435.55,405.5 L436.09,405.5 L436.64,405.5 L437.18,405.5 L437.73,405.5 L438.27,405.5 L438.82,405.5 L439.36,405.5 L439.91,405.5 L440.45,405.5 L441,405.5 L441.54,405.5 L442.09,405.5 L442.63,405.5 L443.18,405.5 L443.72,405.5 L444.27,405.5 L444.81,405.5 L445.35,405.5 L445.9,405.5 L446.44,405.5 L446.99,405.5 L447.53,405.5 L448.08,405.5 L448.62,405.5 L449.17,405.5 L449.71,405.5 L450.26,405.5 L450.8,405.5 L451.35,405.5 L451.89,405.5 L452.44,405.5 L452.98,405.5 L453.53,405.5 L454.07,405.5 L454.62,405.5 L455.16,405.5 L455.7,405.5 L456.25,405.5 L456.79,405.5 L457.34,405.5 L457.88,405.5 L458.43,405.5 L458.97,405.5 L459.52,405.5 L460.06,405.5 L460.61,405.5 L461.15,405.5 L461.7,405.5 L462.24,405.5 L462.79,405.5 L463.33,405.5 L463.88,405.5 L464.42,405.5 L464.97,405.5 L465.51,405.5 L466.06,405.5 L466.6,405.5" fill="none" stroke="#959595" stroke-width="1.7" stroke-dasharray="4.6 1.3"/>
<circle cx="299.25" cy="380.1" r="3" fill="#9a9a9a"/>
<path d="M248.7,279.3 L249.24,280.67 L249.79,282.03 L250.33,283.38 L250.88,284.72 L251.42,286.06 L251.97,287.38 L252.51,288.7 L253.06,290.01 L253.6,291.31 L254.15,292.6 L254.69,293.89 L255.24,295.17 L255.78,296.44 L256.33,297.7 L256.87,298.96 L257.42,300.2 L257.96,301.44 L258.51,302.68 L259.05,303.9 L259.59,305.12 L260.14,306.33 L260.68,307.54 L261.23,308.74 L261.77,309.93 L262.32,311.11 L262.86,312.29 L263.41,313.47 L263.95,314.63 L264.5,315.79 L265.04,316.94 L265.59,318.09 L266.13,319.23 L266.68,320.37 L267.22,321.5 L267.77,322.62 L268.31,323.74 L268.86,324.85 L269.4,325.95 L269.95,327.05 L270.49,328.15 L271.03,329.24 L271.58,330.32 L272.12,331.4 L272.67,332.48 L273.21,333.55 L273.76,334.61 L274.3,335.67 L274.85,336.72 L275.39,337.77 L275.94,338.82 L276.48,339.86 L277.03,340.89 L277.57,341.93 L278.12,342.95 L278.66,343.97 L279.21,344.99 L279.75,346.01 L280.3,347.02 L280.84,348.02 L281.38,349.02 L281.93,350.02 L282.47,351.02 L283.02,352.01 L283.56,352.99 L284.11,353.97 L284.65,354.95 L285.2,355.93 L285.74,356.9 L286.29,357.87 L286.83,358.84 L287.38,359.8 L287.92,360.76 L288.47,361.71 L289.01,362.67 L289.56,363.62 L290.1,364.56 L290.65,365.51 L291.19,366.45 L291.74,367.39 L292.28,368.32 L292.82,369.26 L293.37,370.19 L293.91,371.12 L294.46,372.04 L295,372.97 L295.55,373.89 L296.09,374.81 L296.64,375.73 L297.18,376.64 L297.73,377.55 L298.27,378.47 L298.82,379.38 L299.25,380.1 L299.36,380.28 L299.91,381.17 L300.45,382.02 L301,382.84 L301.54,383.64 L302.09,384.41 L302.63,385.15 L303.17,385.86 L303.72,386.55 L304.26,387.21 L304.81,387.86 L305.35,388.48 L305.9,389.07 L306.44,389.65 L306.99,390.2 L307.53,390.74 L308.08,391.26 L308.62,391.76 L309.17,392.24 L309.71,392.71 L310.26,393.16 L310.8,393.59 L311.35,394.01 L311.89,394.41 L312.44,394.8 L312.98,395.17 L313.53,395.54 L314.07,395.89 L314.61,396.22 L315.16,396.55 L315.7,396.86 L316.25,397.17 L316.79,397.46 L317.34,397.74 L317.88,398.01 L318.43,398.28 L318.97,398.53 L319.52,398.77 L320.06,399.01 L320.61,399.24 L321.15,399.46 L321.7,399.67 L322.24,399.87 L322.79,400.07 L323.33,400.26 L323.88,400.44 L324.42,400.62 L324.96,400.79 L325.51,400.96 L326.05,401.12 L326.6,401.27 L327.14,401.42 L327.69,401.56 L328.23,401.7 L328.78,401.83 L329.32,401.96 L329.87,402.09 L330.41,402.21 L330.96,402.32 L331.5,402.43 L332.05,402.54 L332.59,402.65 L333.14,402.75 L333.68,402.84 L334.23,402.94 L334.77,403.03 L335.32,403.11 L335.86,403.2 L336.4,403.28 L336.95,403.35 L337.49,403.43 L338.04,403.5 L338.58,403.57 L339.13,403.64 L339.67,403.71 L340.22,403.77 L340.76,403.83 L341.31,403.89 L341.85,403.94 L342.4,404 L342.94,404.05 L343.49,404.1 L344.03,404.15 L344.58,404.2 L345.12,404.24 L345.67,404.29 L346.21,404.33 L346.75,404.37 L347.3,404.41 L347.84,404.45 L348.39,404.49 L348.93,404.52 L349.48,404.56 L350.02,404.59 L350.57,404.62 L351.11,404.65 L351.66,404.68 L352.2,404.71 L352.75,404.74 L353.29,404.77 L353.84,404.79 L354.38,404.82 L354.93,404.84 L355.47,404.86 L356.02,404.89 L356.56,404.91 L357.11,404.93 L357.65,404.95 L358.19,404.97 L358.74,404.99 L359.28,405 L359.83,405.02 L360.37,405.04 L360.92,405.05 L361.46,405.07 L362.01,405.09 L362.55,405.1 L363.1,405.11 L363.64,405.13 L364.19,405.14 L364.73,405.15 L365.28,405.17 L365.82,405.18 L366.37,405.19 L366.91,405.2 L367.46,405.21 L368,405.22 L368.54,405.23 L369.09,405.24 L369.63,405.25 L370.18,405.26 L370.72,405.27 L371.27,405.27 L371.81,405.28 L372.36,405.29 L372.9,405.3 L373.45,405.3 L373.99,405.31 L374.54,405.32 L375.08,405.32 L375.63,405.33 L376.17,405.34 L376.72,405.34 L377.26,405.35 L377.81,405.35 L378.35,405.36 L378.9,405.36 L379.44,405.37 L379.98,405.37 L380.53,405.38 L381.07,405.38 L381.62,405.39 L382.16,405.39 L382.71,405.39 L383.25,405.4 L383.8,405.4 L384.34,405.4 L384.89,405.41 L385.43,405.41 L385.98,405.41 L386.52,405.42 L387.07,405.42 L387.61,405.42 L388.16,405.43 L388.7,405.43 L389.25,405.43 L389.79,405.43 L390.33,405.44 L390.88,405.44 L391.42,405.44 L391.97,405.44 L392.51,405.44 L393.06,405.45 L393.6,405.45 L394.15,405.45 L394.69,405.45 L395.24,405.45 L395.78,405.45 L396.33,405.46 L396.87,405.46 L397.42,405.46 L397.96,405.46 L398.51,405.46 L399.05,405.46 L399.6,405.46 L400.14,405.47 L400.69,405.47 L401.23,405.47 L401.77,405.47 L402.32,405.47 L402.86,405.47 L403.41,405.47 L403.95,405.47 L404.5,405.47 L405.04,405.48 L405.59,405.48 L406.13,405.48 L406.68,405.48 L407.22,405.48 L407.77,405.48 L408.31,405.48 L408.86,405.48 L409.4,405.48 L409.95,405.48 L410.49,405.48 L411.04,405.48 L411.58,405.48 L412.12,405.48 L412.67,405.49 L413.21,405.49 L413.76,405.49 L414.3,405.49 L414.85,405.49 L415.39,405.49 L415.94,405.49 L416.48,405.49 L417.03,405.49 L417.57,405.49 L418.12,405.49 L418.66,405.49 L419.21,405.49 L419.75,405.49 L420.3,405.49 L420.84,405.49 L421.39,405.49 L421.93,405.49 L422.48,405.49 L423.02,405.49 L423.56,405.49 L424.11,405.49 L424.65,405.49 L425.2,405.49 L425.74,405.49 L426.29,405.49 L426.83,405.49 L427.38,405.49 L427.92,405.49 L428.47,405.49 L429.01,405.49 L429.56,405.5 L430.1,405.5 L430.65,405.5 L431.19,405.5 L431.74,405.5 L432.28,405.5 L432.83,405.5 L433.37,405.5 L433.91,405.5 L434.46,405.5 L435,405.5 L435.55,405.5 L436.09,405.5 L436.64,405.5 L437.18,405.5 L437.73,405.5 L438.27,405.5 L438.82,405.5 L439.36,405.5 L439.91,405.5 L440.45,405.5 L441,405.5 L441.54,405.5 L442.09,405.5 L442.63,405.5 L443.18,405.5 L443.72,405.5 L444.27,405.5 L444.81,405.5 L445.35,405.5 L445.9,405.5 L446.44,405.5 L446.99,405.5 L447.53,405.5 L448.08,405.5 L448.62,405.5 L449.17,405.5 L449.71,405.5 L450.26,405.5 L450.8,405.5 L451.35,405.5 L451.89,405.5 L452.44,405.5 L452.98,405.5 L453.53,405.5 L454.07,405.5 L454.62,405.5 L455.16,405.5 L455.7,405.5 L456.25,405.5 L456.79,405.5 L457.34,405.5 L457.88,405.5 L458.43,405.5 L458.97,405.5 L459.52,405.5 L460.06,405.5 L460.61,405.5 L461.15,405.5 L461.7,405.5 L462.24,405.5 L462.79,405.5 L463.33,405.5 L463.88,405.5 L464.42,405.5 L464.97,405.5 L465.51,405.5 L466.06,405.5 L466.6,405.5" fill="none" stroke="#111" stroke-width="1.35"/>
<text x="221" y="342.7" font-family="'Liberation Serif', serif" font-size="13.5" fill="#3a3a3a" stroke="#3a3a3a" stroke-width="0.15" text-anchor="middle" textLength="20.6" lengthAdjust="spacingAndGlyphs" transform="rotate(-90 221 342.7)"><tspan font-style="italic">c</tspan>(<tspan font-style="italic">x</tspan>)</text>
<g fill="none" stroke="#2a2a2a" stroke-linecap="round">
<path d="M358.12,438.14 L356.71,443.43" stroke-width="1.04"/>
<path d="M354.2,439.88 C354.49,437.74 356.27,436.93 358.12,438.27 C358.71,437.33 359.97,437.2 360.56,438.41" stroke-width="0.56"/>
<path d="M354.64,442.83 C355.01,443.9 356.12,444.03 356.71,443.43 C357.6,444.23 359.82,443.56 360.71,441.22" stroke-width="0.56"/>
</g>
<circle cx="360.41" cy="438.54" r="0.56" fill="#2a2a2a"/>
<circle cx="354.71" cy="442.76" r="0.56" fill="#2a2a2a"/>
<path d="M385,326.5 L414.5,326.5" fill="none" stroke="#333" stroke-width="1.6" stroke-dasharray="2.2 1.4"/>
<path d="M385,341.8 L414.5,341.8" fill="none" stroke="#959595" stroke-width="1.7" stroke-dasharray="4.6 1.3"/>
<path d="M385,356.9 L414.5,356.9" fill="none" stroke="#111" stroke-width="1.35"/>
<text x="419.9" y="329.5" font-family="'Liberation Sans', sans-serif" font-size="8.6" fill="#111" font-weight="bold" font-style="normal" text-anchor="start" stroke="#111" stroke-width="0.15">columnar</text>
<text x="419.9" y="344.8" font-family="'Liberation Sans', sans-serif" font-size="8.6" fill="#111" font-weight="bold" font-style="normal" text-anchor="start" stroke="#111" stroke-width="0.15">squamous</text>
<text x="419.9" y="359.9" font-family="'Liberation Sans', sans-serif" font-size="8.6" fill="#111" font-weight="bold" font-style="normal" text-anchor="start" stroke="#111" stroke-width="0.15">crossover</text>
<rect x="524.8" y="47.4" width="221.2" height="134.5" fill="none" stroke="#b8b8b8" stroke-width="1.2"/>
<path d="M524.8,181.9 L528,181.9" fill="none" stroke="#707070" stroke-width="0.9"/>
<path d="M746,181.9 L742.8,181.9" fill="none" stroke="#707070" stroke-width="0.9"/>
<path d="M524.8,159.52 L528,159.52" fill="none" stroke="#707070" stroke-width="0.9"/>
<path d="M746,159.52 L742.8,159.52" fill="none" stroke="#707070" stroke-width="0.9"/>
<path d="M524.8,137.13 L528,137.13" fill="none" stroke="#707070" stroke-width="0.9"/>
<path d="M746,137.13 L742.8,137.13" fill="none" stroke="#707070" stroke-width="0.9"/>
<path d="M524.8,114.75 L528,114.75" fill="none" stroke="#707070" stroke-width="0.9"/>
<path d="M746,114.75 L742.8,114.75" fill="none" stroke="#707070" stroke-width="0.9"/>
<path d="M524.8,92.36 L528,92.36" fill="none" stroke="#707070" stroke-width="0.9"/>
<path d="M746,92.36 L742.8,92.36" fill="none" stroke="#707070" stroke-width="0.9"/>
<path d="M524.8,69.97 L528,69.97" fill="none" stroke="#707070" stroke-width="0.9"/>
<path d="M746,69.97 L742.8,69.97" fill="none" stroke="#707070" stroke-width="0.9"/>
<path d="M524.8,47.59 L528,47.59" fill="none" stroke="#707070" stroke-width="0.9"/>
<path d="M746,47.59 L742.8,47.59" fill="none" stroke="#707070" stroke-width="0.9"/>
<path d="M524.8,177.42 L526.8,177.42" fill="none" stroke="#909090" stroke-width="0.8"/>
<path d="M746,177.42 L744,177.42" fill="none" stroke="#909090" stroke-width="0.8"/>
<path d="M524.8,172.95 L526.8,172.95" fill="none" stroke="#909090" stroke-width="0.8"/>
<path d="M746,172.95 L744,172.95" fill="none" stroke="#909090" stroke-width="0.8"/>
<path d="M524.8,168.47 L526.8,168.47" fill="none" stroke="#909090" stroke-width="0.8"/>
<path d="M746,168.47 L744,168.47" fill="none" stroke="#909090" stroke-width="0.8"/>
<path d="M524.8,163.99 L526.8,163.99" fill="none" stroke="#909090" stroke-width="0.8"/>
<path d="M746,163.99 L744,163.99" fill="none" stroke="#909090" stroke-width="0.8"/>
<path d="M524.8,155.04 L526.8,155.04" fill="none" stroke="#909090" stroke-width="0.8"/>
<path d="M746,155.04 L744,155.04" fill="none" stroke="#909090" stroke-width="0.8"/>
<path d="M524.8,150.56 L526.8,150.56" fill="none" stroke="#909090" stroke-width="0.8"/>
<path d="M746,150.56 L744,150.56" fill="none" stroke="#909090" stroke-width="0.8"/>
<path d="M524.8,146.08 L526.8,146.08" fill="none" stroke="#909090" stroke-width="0.8"/>
<path d="M746,146.08 L744,146.08" fill="none" stroke="#909090" stroke-width="0.8"/>
<path d="M524.8,141.61 L526.8,141.61" fill="none" stroke="#909090" stroke-width="0.8"/>
<path d="M746,141.61 L744,141.61" fill="none" stroke="#909090" stroke-width="0.8"/>
<path d="M524.8,132.65 L526.8,132.65" fill="none" stroke="#909090" stroke-width="0.8"/>
<path d="M746,132.65 L744,132.65" fill="none" stroke="#909090" stroke-width="0.8"/>
<path d="M524.8,128.18 L526.8,128.18" fill="none" stroke="#909090" stroke-width="0.8"/>
<path d="M746,128.18 L744,128.18" fill="none" stroke="#909090" stroke-width="0.8"/>
<path d="M524.8,123.7 L526.8,123.7" fill="none" stroke="#909090" stroke-width="0.8"/>
<path d="M746,123.7 L744,123.7" fill="none" stroke="#909090" stroke-width="0.8"/>
<path d="M524.8,119.22 L526.8,119.22" fill="none" stroke="#909090" stroke-width="0.8"/>
<path d="M746,119.22 L744,119.22" fill="none" stroke="#909090" stroke-width="0.8"/>
<path d="M524.8,110.27 L526.8,110.27" fill="none" stroke="#909090" stroke-width="0.8"/>
<path d="M746,110.27 L744,110.27" fill="none" stroke="#909090" stroke-width="0.8"/>
<path d="M524.8,105.79 L526.8,105.79" fill="none" stroke="#909090" stroke-width="0.8"/>
<path d="M746,105.79 L744,105.79" fill="none" stroke="#909090" stroke-width="0.8"/>
<path d="M524.8,101.31 L526.8,101.31" fill="none" stroke="#909090" stroke-width="0.8"/>
<path d="M746,101.31 L744,101.31" fill="none" stroke="#909090" stroke-width="0.8"/>
<path d="M524.8,96.84 L526.8,96.84" fill="none" stroke="#909090" stroke-width="0.8"/>
<path d="M746,96.84 L744,96.84" fill="none" stroke="#909090" stroke-width="0.8"/>
<path d="M524.8,87.88 L526.8,87.88" fill="none" stroke="#909090" stroke-width="0.8"/>
<path d="M746,87.88 L744,87.88" fill="none" stroke="#909090" stroke-width="0.8"/>
<path d="M524.8,83.41 L526.8,83.41" fill="none" stroke="#909090" stroke-width="0.8"/>
<path d="M746,83.41 L744,83.41" fill="none" stroke="#909090" stroke-width="0.8"/>
<path d="M524.8,78.93 L526.8,78.93" fill="none" stroke="#909090" stroke-width="0.8"/>
<path d="M746,78.93 L744,78.93" fill="none" stroke="#909090" stroke-width="0.8"/>
<path d="M524.8,74.45 L526.8,74.45" fill="none" stroke="#909090" stroke-width="0.8"/>
<path d="M746,74.45 L744,74.45" fill="none" stroke="#909090" stroke-width="0.8"/>
<path d="M524.8,65.5 L526.8,65.5" fill="none" stroke="#909090" stroke-width="0.8"/>
<path d="M746,65.5 L744,65.5" fill="none" stroke="#909090" stroke-width="0.8"/>
<path d="M524.8,61.02 L526.8,61.02" fill="none" stroke="#909090" stroke-width="0.8"/>
<path d="M746,61.02 L744,61.02" fill="none" stroke="#909090" stroke-width="0.8"/>
<path d="M524.8,56.54 L526.8,56.54" fill="none" stroke="#909090" stroke-width="0.8"/>
<path d="M746,56.54 L744,56.54" fill="none" stroke="#909090" stroke-width="0.8"/>
<path d="M524.8,52.07 L526.8,52.07" fill="none" stroke="#909090" stroke-width="0.8"/>
<path d="M746,52.07 L744,52.07" fill="none" stroke="#909090" stroke-width="0.8"/>
<path d="M528.8,181.9 L528.8,178.7" fill="none" stroke="#707070" stroke-width="0.9"/>
<path d="M528.8,47.4 L528.8,50.6" fill="none" stroke="#707070" stroke-width="0.9"/>
<path d="M581.92,181.9 L581.92,178.7" fill="none" stroke="#707070" stroke-width="0.9"/>
<path d="M581.92,47.4 L581.92,50.6" fill="none" stroke="#707070" stroke-width="0.9"/>
<path d="M635.04,181.9 L635.04,178.7" fill="none" stroke="#707070" stroke-width="0.9"/>
<path d="M635.04,47.4 L635.04,50.6" fill="none" stroke="#707070" stroke-width="0.9"/>
<path d="M688.16,181.9 L688.16,178.7" fill="none" stroke="#707070" stroke-width="0.9"/>
<path d="M688.16,47.4 L688.16,50.6" fill="none" stroke="#707070" stroke-width="0.9"/>
<path d="M741.28,181.9 L741.28,178.7" fill="none" stroke="#707070" stroke-width="0.9"/>
<path d="M741.28,47.4 L741.28,50.6" fill="none" stroke="#707070" stroke-width="0.9"/>
<path d="M544.79,181.9 L544.79,179.9" fill="none" stroke="#909090" stroke-width="0.8"/>
<path d="M544.79,47.4 L544.79,49.4" fill="none" stroke="#909090" stroke-width="0.8"/>
<path d="M554.14,181.9 L554.14,179.9" fill="none" stroke="#909090" stroke-width="0.8"/>
<path d="M554.14,47.4 L554.14,49.4" fill="none" stroke="#909090" stroke-width="0.8"/>
<path d="M560.78,181.9 L560.78,179.9" fill="none" stroke="#909090" stroke-width="0.8"/>
<path d="M560.78,47.4 L560.78,49.4" fill="none" stroke="#909090" stroke-width="0.8"/>
<path d="M565.93,181.9 L565.93,179.9" fill="none" stroke="#909090" stroke-width="0.8"/>
<path d="M565.93,47.4 L565.93,49.4" fill="none" stroke="#909090" stroke-width="0.8"/>
<path d="M570.14,181.9 L570.14,179.9" fill="none" stroke="#909090" stroke-width="0.8"/>
<path d="M570.14,47.4 L570.14,49.4" fill="none" stroke="#909090" stroke-width="0.8"/>
<path d="M573.69,181.9 L573.69,179.9" fill="none" stroke="#909090" stroke-width="0.8"/>
<path d="M573.69,47.4 L573.69,49.4" fill="none" stroke="#909090" stroke-width="0.8"/>
<path d="M576.77,181.9 L576.77,179.9" fill="none" stroke="#909090" stroke-width="0.8"/>
<path d="M576.77,47.4 L576.77,49.4" fill="none" stroke="#909090" stroke-width="0.8"/>
<path d="M579.49,181.9 L579.49,179.9" fill="none" stroke="#909090" stroke-width="0.8"/>
<path d="M579.49,47.4 L579.49,49.4" fill="none" stroke="#909090" stroke-width="0.8"/>
<path d="M597.91,181.9 L597.91,179.9" fill="none" stroke="#909090" stroke-width="0.8"/>
<path d="M597.91,47.4 L597.91,49.4" fill="none" stroke="#909090" stroke-width="0.8"/>
<path d="M607.26,181.9 L607.26,179.9" fill="none" stroke="#909090" stroke-width="0.8"/>
<path d="M607.26,47.4 L607.26,49.4" fill="none" stroke="#909090" stroke-width="0.8"/>
<path d="M613.9,181.9 L613.9,179.9" fill="none" stroke="#909090" stroke-width="0.8"/>
<path d="M613.9,47.4 L613.9,49.4" fill="none" stroke="#909090" stroke-width="0.8"/>
<path d="M619.05,181.9 L619.05,179.9" fill="none" stroke="#909090" stroke-width="0.8"/>
<path d="M619.05,47.4 L619.05,49.4" fill="none" stroke="#909090" stroke-width="0.8"/>
<path d="M623.26,181.9 L623.26,179.9" fill="none" stroke="#909090" stroke-width="0.8"/>
<path d="M623.26,47.4 L623.26,49.4" fill="none" stroke="#909090" stroke-width="0.8"/>
<path d="M626.81,181.9 L626.81,179.9" fill="none" stroke="#909090" stroke-width="0.8"/>
<path d="M626.81,47.4 L626.81,49.4" fill="none" stroke="#909090" stroke-width="0.8"/>
<path d="M629.89,181.9 L629.89,179.9" fill="none" stroke="#909090" stroke-width="0.8"/>
<path d="M629.89,47.4 L629.89,49.4" fill="none" stroke="#909090" stroke-width="0.8"/>
<path d="M632.61,181.9 L632.61,179.9" fill="none" stroke="#909090" stroke-width="0.8"/>
<path d="M632.61,47.4 L632.61,49.4" fill="none" stroke="#909090" stroke-width="0.8"/>
<path d="M651.03,181.9 L651.03,179.9" fill="none" stroke="#909090" stroke-width="0.8"/>
<path d="M651.03,47.4 L651.03,49.4" fill="none" stroke="#909090" stroke-width="0.8"/>
<path d="M660.38,181.9 L660.38,179.9" fill="none" stroke="#909090" stroke-width="0.8"/>
<path d="M660.38,47.4 L660.38,49.4" fill="none" stroke="#909090" stroke-width="0.8"/>
<path d="M667.02,181.9 L667.02,179.9" fill="none" stroke="#909090" stroke-width="0.8"/>
<path d="M667.02,47.4 L667.02,49.4" fill="none" stroke="#909090" stroke-width="0.8"/>
<path d="M672.17,181.9 L672.17,179.9" fill="none" stroke="#909090" stroke-width="0.8"/>
<path d="M672.17,47.4 L672.17,49.4" fill="none" stroke="#909090" stroke-width="0.8"/>
<path d="M676.38,181.9 L676.38,179.9" fill="none" stroke="#909090" stroke-width="0.8"/>
<path d="M676.38,47.4 L676.38,49.4" fill="none" stroke="#909090" stroke-width="0.8"/>
<path d="M679.93,181.9 L679.93,179.9" fill="none" stroke="#909090" stroke-width="0.8"/>
<path d="M679.93,47.4 L679.93,49.4" fill="none" stroke="#909090" stroke-width="0.8"/>
<path d="M683.01,181.9 L683.01,179.9" fill="none" stroke="#909090" stroke-width="0.8"/>
<path d="M683.01,47.4 L683.01,49.4" fill="none" stroke="#909090" stroke-width="0.8"/>
<path d="M685.73,181.9 L685.73,179.9" fill="none" stroke="#909090" stroke-width="0.8"/>
<path d="M685.73,47.4 L685.73,49.4" fill="none" stroke="#909090" stroke-width="0.8"/>
<path d="M704.15,181.9 L704.15,179.9" fill="none" stroke="#909090" stroke-width="0.8"/>
<path d="M704.15,47.4 L704.15,49.4" fill="none" stroke="#909090" stroke-width="0.8"/>
<path d="M713.5,181.9 L713.5,179.9" fill="none" stroke="#909090" stroke-width="0.8"/>
<path d="M713.5,47.4 L713.5,49.4" fill="none" stroke="#909090" stroke-width="0.8"/>
<path d="M720.14,181.9 L720.14,179.9" fill="none" stroke="#909090" stroke-width="0.8"/>
<path d="M720.14,47.4 L720.14,49.4" fill="none" stroke="#909090" stroke-width="0.8"/>
<path d="M725.29,181.9 L725.29,179.9" fill="none" stroke="#909090" stroke-width="0.8"/>
<path d="M725.29,47.4 L725.29,49.4" fill="none" stroke="#909090" stroke-width="0.8"/>
<path d="M729.5,181.9 L729.5,179.9" fill="none" stroke="#909090" stroke-width="0.8"/>
<path d="M729.5,47.4 L729.5,49.4" fill="none" stroke="#909090" stroke-width="0.8"/>
<path d="M733.05,181.9 L733.05,179.9" fill="none" stroke="#909090" stroke-width="0.8"/>
<path d="M733.05,47.4 L733.05,49.4" fill="none" stroke="#909090" stroke-width="0.8"/>
<path d="M736.13,181.9 L736.13,179.9" fill="none" stroke="#909090" stroke-width="0.8"/>
<path d="M736.13,47.4 L736.13,49.4" fill="none" stroke="#909090" stroke-width="0.8"/>
<path d="M738.85,181.9 L738.85,179.9" fill="none" stroke="#909090" stroke-width="0.8"/>
<path d="M738.85,47.4 L738.85,49.4" fill="none" stroke="#909090" stroke-width="0.8"/>
<text x="522.3" y="185" font-family="'Liberation Sans', sans-serif" font-size="8.6" fill="#111" font-weight="bold" font-style="normal" text-anchor="end" stroke="#111" stroke-width="0.15">0.0</text>
<text x="522.3" y="162.62" font-family="'Liberation Sans', sans-serif" font-size="8.6" fill="#111" font-weight="bold" font-style="normal" text-anchor="end" stroke="#111" stroke-width="0.15">0.5</text>
<text x="522.3" y="140.23" font-family="'Liberation Sans', sans-serif" font-size="8.6" fill="#111" font-weight="bold" font-style="normal" text-anchor="end" stroke="#111" stroke-width="0.15">1.0</text>
<text x="522.3" y="117.84" font-family="'Liberation Sans', sans-serif" font-size="8.6" fill="#111" font-weight="bold" font-style="normal" text-anchor="end" stroke="#111" stroke-width="0.15">1.5</text>
<text x="522.3" y="95.46" font-family="'Liberation Sans', sans-serif" font-size="8.6" fill="#111" font-weight="bold" font-style="normal" text-anchor="end" stroke="#111" stroke-width="0.15">2.0</text>
<text x="522.3" y="73.07" font-family="'Liberation Sans', sans-serif" font-size="8.6" fill="#111" font-weight="bold" font-style="normal" text-anchor="end" stroke="#111" stroke-width="0.15">2.5</text>
<text x="522.3" y="50.69" font-family="'Liberation Sans', sans-serif" font-size="8.6" fill="#111" font-weight="bold" font-style="normal" text-anchor="end" stroke="#111" stroke-width="0.15">3.0</text>
<text x="528.8" y="192.9" font-family="'Liberation Sans', sans-serif" font-size="8.6" fill="#111" font-weight="bold" font-style="normal" text-anchor="middle" stroke="#111" stroke-width="0.15">0.01</text>
<text x="581.92" y="192.9" font-family="'Liberation Sans', sans-serif" font-size="8.6" fill="#111" font-weight="bold" font-style="normal" text-anchor="middle" stroke="#111" stroke-width="0.15">0.10</text>
<text x="635.04" y="192.9" font-family="'Liberation Sans', sans-serif" font-size="8.6" fill="#111" font-weight="bold" font-style="normal" text-anchor="middle" stroke="#111" stroke-width="0.15">1</text>
<text x="688.16" y="192.9" font-family="'Liberation Sans', sans-serif" font-size="8.6" fill="#111" font-weight="bold" font-style="normal" text-anchor="middle" stroke="#111" stroke-width="0.15">10</text>
<text x="741.28" y="192.9" font-family="'Liberation Sans', sans-serif" font-size="8.6" fill="#111" font-weight="bold" font-style="normal" text-anchor="middle" stroke="#111" stroke-width="0.15">100</text>
<path d="M528.5,155.5 L530.29,155.5 L532.08,155.5 L533.86,155.5 L535.65,155.5 L537.44,155.5 L539.23,155.5 L541.02,155.5 L542.81,155.5 L544.59,155.5 L546.38,155.5 L548.17,155.51 L549.96,155.51 L551.75,155.51 L553.54,155.51 L555.32,155.51 L557.11,155.51 L558.9,155.51 L560.69,155.51 L562.48,155.51 L564.26,155.51 L566.05,155.51 L567.84,155.51 L569.63,155.51 L571.42,155.51 L573.21,155.52 L574.99,155.52 L576.78,155.52 L578.57,155.52 L580.36,155.52 L582.15,155.52 L583.94,155.53 L585.72,155.53 L587.51,155.53 L589.3,155.53 L591.09,155.54 L592.88,155.54 L594.66,155.54 L596.45,155.55 L598.24,155.55 L600.03,155.55 L601.82,155.56 L603.61,155.56 L605.39,155.57 L607.18,155.58 L608.97,155.58 L610.76,155.59 L612.55,155.6 L614.34,155.6 L616.12,155.61 L617.91,155.62 L619.7,155.63 L621.49,155.64 L623.28,155.65 L625.06,155.67 L626.85,155.68 L628.64,155.7 L630.43,155.71 L632.22,155.73 L634.01,155.75 L635.79,155.77 L637.58,155.79 L639.37,155.81 L641.16,155.84 L642.95,155.87 L644.74,155.89 L646.52,155.93 L648.31,155.96 L650.1,156 L651.89,156.03 L653.68,156.07 L655.46,156.12 L657.25,156.17 L659.04,156.22 L660.83,156.27 L662.62,156.33 L664.41,156.39 L666.19,156.45 L667.98,156.52 L669.77,156.59 L671.56,156.67 L673.35,156.75 L675.14,156.83 L676.92,156.92 L678.71,157.01 L680.5,157.11 L682.29,157.21 L684.08,157.31 L685.86,157.42 L687.65,157.53 L689.44,157.65 L691.23,157.76 L693.02,157.89 L694.81,158.01 L696.59,158.14 L698.38,158.26 L700.17,158.39 L701.96,158.53 L703.75,158.66 L705.54,158.79 L707.32,158.92 L709.11,159.05 L710.9,159.18 L712.69,159.31 L714.48,159.44 L716.26,159.56 L718.05,159.69 L719.84,159.81 L721.63,159.92 L723.42,160.04 L725.21,160.15 L726.99,160.25 L728.78,160.35 L730.57,160.45 L732.36,160.55 L734.15,160.63 L735.94,160.72 L737.72,160.8 L739.51,160.88 L741.3,160.95" fill="none" stroke="#333" stroke-width="1.6" stroke-dasharray="2.2 1.4"/>
<path d="M528.5,63 L530.29,63 L532.08,63 L533.86,63 L535.65,63 L537.44,63 L539.23,63 L541.02,63 L542.81,63 L544.59,63 L546.38,63 L548.17,63 L549.96,63 L551.75,63 L553.54,63 L555.32,63 L557.11,63.01 L558.9,63.01 L560.69,63.01 L562.48,63.01 L564.26,63.01 L566.05,63.01 L567.84,63.01 L569.63,63.01 L571.42,63.01 L573.21,63.01 L574.99,63.02 L576.78,63.02 L578.57,63.02 L580.36,63.02 L582.15,63.03 L583.94,63.03 L585.72,63.03 L587.51,63.04 L589.3,63.04 L591.09,63.05 L592.88,63.05 L594.66,63.06 L596.45,63.07 L598.24,63.08 L600.03,63.09 L601.82,63.1 L603.61,63.11 L605.39,63.12 L607.18,63.14 L608.97,63.16 L610.76,63.18 L612.55,63.2 L614.34,63.22 L616.12,63.25 L617.91,63.28 L619.7,63.32 L621.49,63.36 L623.28,63.4 L625.06,63.45 L626.85,63.5 L628.64,63.56 L630.43,63.63 L632.22,63.7 L634.01,63.78 L635.79,63.87 L637.58,63.97 L639.37,64.08 L641.16,64.2 L642.95,64.33 L644.74,64.47 L646.52,64.63 L648.31,64.79 L650.1,64.97 L651.89,65.16 L653.68,65.37 L655.46,65.59 L657.25,65.82 L659.04,66.06 L660.83,66.31 L662.62,66.57 L664.41,66.83 L666.19,67.11 L667.98,67.38 L669.77,67.66 L671.56,67.94 L673.35,68.22 L675.14,68.5 L676.92,68.77 L678.71,69.03 L680.5,69.28 L682.29,69.52 L684.08,69.76 L685.86,69.98 L687.65,70.19 L689.44,70.38 L691.23,70.56 L693.02,70.73 L694.81,70.89 L696.59,71.04 L698.38,71.17 L700.17,71.29 L701.96,71.4 L703.75,71.5 L705.54,71.6 L707.32,71.68 L709.11,71.75 L710.9,71.82 L712.69,71.88 L714.48,71.94 L716.26,71.99 L718.05,72.03 L719.84,72.07 L721.63,72.11 L723.42,72.14 L725.21,72.17 L726.99,72.19 L728.78,72.22 L730.57,72.24 L732.36,72.26 L734.15,72.27 L735.94,72.29 L737.72,72.3 L739.51,72.31 L741.3,72.32" fill="none" stroke="#959595" stroke-width="1.8" stroke-dasharray="4.6 1.2"/>
<path d="M529,72.5 L538.02,72.5 L547.25,72.49 L556.57,72.46 L565.84,72.44 L574.94,72.44 L583.75,72.46 L592.15,72.51 L600,72.6 L607.36,72.73 L614.37,72.88 L621.04,73.06 L627.38,73.26 L633.39,73.5 L639.09,73.76 L644.49,74.06 L649.6,74.4 L654.34,74.78 L658.69,75.2 L662.69,75.66 L666.39,76.15 L669.86,76.66 L673.15,77.2 L676.31,77.75 L679.4,78.3 L682.31,78.87 L684.96,79.47 L687.41,80.09 L689.71,80.73 L691.92,81.38 L694.12,82.02 L696.36,82.67 L698.7,83.3 L698.7,149.8 L699.08,150.03 L699.43,150.26 L699.75,150.49 L700.09,150.72 L700.45,150.95 L700.88,151.17 L701.39,151.39 L702,151.6 L702.7,151.8 L703.44,152 L704.25,152.19 L705.13,152.37 L706.08,152.56 L707.12,152.74 L708.26,152.92 L709.5,153.1 L710.85,153.29 L712.3,153.48 L713.83,153.67 L715.46,153.86 L717.18,154.04 L718.97,154.21 L720.85,154.36 L722.8,154.5 L724.86,154.61 L727.06,154.71 L729.36,154.78 L731.72,154.85 L734.13,154.91 L736.55,154.97 L738.95,155.03 L741.3,155.1" fill="none" stroke="#111" stroke-width="1.35"/>
<text x="499.6" y="114.8" font-family="'Liberation Serif', serif" font-size="13.5" fill="#3a3a3a" stroke="#3a3a3a" stroke-width="0.15" text-anchor="middle" textLength="21.8" lengthAdjust="spacingAndGlyphs" transform="rotate(-90 499.6 114.8)"><tspan font-style="italic">r</tspan>(<tspan font-style="italic">x</tspan>)</text>
<g fill="none" stroke="#2a2a2a" stroke-linecap="round">
<path d="M635.41,207.13 L634.17,211.79" stroke-width="0.91"/>
<path d="M631.96,208.66 C632.22,206.77 633.78,206.06 635.41,207.24 C635.93,206.42 637.03,206.3 637.55,207.36" stroke-width="0.5"/>
<path d="M632.35,211.26 C632.68,212.2 633.65,212.32 634.17,211.79 C634.95,212.49 636.9,211.91 637.68,209.84" stroke-width="0.5"/>
</g>
<circle cx="637.42" cy="207.48" r="0.55" fill="#2a2a2a"/>
<circle cx="632.42" cy="211.2" r="0.55" fill="#2a2a2a"/>
<path d="M530,98.9 L559.5,98.9" fill="none" stroke="#333" stroke-width="1.6" stroke-dasharray="2.2 1.4"/>
<path d="M530,114 L559.5,114" fill="none" stroke="#959595" stroke-width="1.7" stroke-dasharray="4.6 1.3"/>
<path d="M530,128.7 L559.5,128.7" fill="none" stroke="#111" stroke-width="1.35"/>
<text x="564" y="101.9" font-family="'Liberation Sans', sans-serif" font-size="8.6" fill="#111" font-weight="bold" font-style="normal" text-anchor="start" stroke="#111" stroke-width="0.15">columnar</text>
<text x="564" y="117" font-family="'Liberation Sans', sans-serif" font-size="8.6" fill="#111" font-weight="bold" font-style="normal" text-anchor="start" stroke="#111" stroke-width="0.15">squamous</text>
<text x="564" y="131.7" font-family="'Liberation Sans', sans-serif" font-size="8.6" fill="#111" font-weight="bold" font-style="normal" text-anchor="start" stroke="#111" stroke-width="0.15">crossover</text>
<rect x="521.6" y="273.6" width="223.7" height="138.3" fill="none" stroke="#b8b8b8" stroke-width="1.2"/>
<path d="M521.6,411.9 L524.8,411.9" fill="none" stroke="#707070" stroke-width="0.9"/>
<path d="M745.3,411.9 L742.1,411.9" fill="none" stroke="#707070" stroke-width="0.9"/>
<path d="M521.6,388.96 L524.8,388.96" fill="none" stroke="#707070" stroke-width="0.9"/>
<path d="M745.3,388.96 L742.1,388.96" fill="none" stroke="#707070" stroke-width="0.9"/>
<path d="M521.6,366.03 L524.8,366.03" fill="none" stroke="#707070" stroke-width="0.9"/>
<path d="M745.3,366.03 L742.1,366.03" fill="none" stroke="#707070" stroke-width="0.9"/>
<path d="M521.6,343.09 L524.8,343.09" fill="none" stroke="#707070" stroke-width="0.9"/>
<path d="M745.3,343.09 L742.1,343.09" fill="none" stroke="#707070" stroke-width="0.9"/>
<path d="M521.6,320.16 L524.8,320.16" fill="none" stroke="#707070" stroke-width="0.9"/>
<path d="M745.3,320.16 L742.1,320.16" fill="none" stroke="#707070" stroke-width="0.9"/>
<path d="M521.6,297.22 L524.8,297.22" fill="none" stroke="#707070" stroke-width="0.9"/>
<path d="M745.3,297.22 L742.1,297.22" fill="none" stroke="#707070" stroke-width="0.9"/>
<path d="M521.6,274.29 L524.8,274.29" fill="none" stroke="#707070" stroke-width="0.9"/>
<path d="M745.3,274.29 L742.1,274.29" fill="none" stroke="#707070" stroke-width="0.9"/>
<path d="M521.6,407.31 L523.6,407.31" fill="none" stroke="#909090" stroke-width="0.8"/>
<path d="M745.3,407.31 L743.3,407.31" fill="none" stroke="#909090" stroke-width="0.8"/>
<path d="M521.6,402.73 L523.6,402.73" fill="none" stroke="#909090" stroke-width="0.8"/>
<path d="M745.3,402.73 L743.3,402.73" fill="none" stroke="#909090" stroke-width="0.8"/>
<path d="M521.6,398.14 L523.6,398.14" fill="none" stroke="#909090" stroke-width="0.8"/>
<path d="M745.3,398.14 L743.3,398.14" fill="none" stroke="#909090" stroke-width="0.8"/>
<path d="M521.6,393.55 L523.6,393.55" fill="none" stroke="#909090" stroke-width="0.8"/>
<path d="M745.3,393.55 L743.3,393.55" fill="none" stroke="#909090" stroke-width="0.8"/>
<path d="M521.6,384.38 L523.6,384.38" fill="none" stroke="#909090" stroke-width="0.8"/>
<path d="M745.3,384.38 L743.3,384.38" fill="none" stroke="#909090" stroke-width="0.8"/>
<path d="M521.6,379.79 L523.6,379.79" fill="none" stroke="#909090" stroke-width="0.8"/>
<path d="M745.3,379.79 L743.3,379.79" fill="none" stroke="#909090" stroke-width="0.8"/>
<path d="M521.6,375.2 L523.6,375.2" fill="none" stroke="#909090" stroke-width="0.8"/>
<path d="M745.3,375.2 L743.3,375.2" fill="none" stroke="#909090" stroke-width="0.8"/>
<path d="M521.6,370.62 L523.6,370.62" fill="none" stroke="#909090" stroke-width="0.8"/>
<path d="M745.3,370.62 L743.3,370.62" fill="none" stroke="#909090" stroke-width="0.8"/>
<path d="M521.6,361.44 L523.6,361.44" fill="none" stroke="#909090" stroke-width="0.8"/>
<path d="M745.3,361.44 L743.3,361.44" fill="none" stroke="#909090" stroke-width="0.8"/>
<path d="M521.6,356.86 L523.6,356.86" fill="none" stroke="#909090" stroke-width="0.8"/>
<path d="M745.3,356.86 L743.3,356.86" fill="none" stroke="#909090" stroke-width="0.8"/>
<path d="M521.6,352.27 L523.6,352.27" fill="none" stroke="#909090" stroke-width="0.8"/>
<path d="M745.3,352.27 L743.3,352.27" fill="none" stroke="#909090" stroke-width="0.8"/>
<path d="M521.6,347.68 L523.6,347.68" fill="none" stroke="#909090" stroke-width="0.8"/>
<path d="M745.3,347.68 L743.3,347.68" fill="none" stroke="#909090" stroke-width="0.8"/>
<path d="M521.6,338.51 L523.6,338.51" fill="none" stroke="#909090" stroke-width="0.8"/>
<path d="M745.3,338.51 L743.3,338.51" fill="none" stroke="#909090" stroke-width="0.8"/>
<path d="M521.6,333.92 L523.6,333.92" fill="none" stroke="#909090" stroke-width="0.8"/>
<path d="M745.3,333.92 L743.3,333.92" fill="none" stroke="#909090" stroke-width="0.8"/>
<path d="M521.6,329.33 L523.6,329.33" fill="none" stroke="#909090" stroke-width="0.8"/>
<path d="M745.3,329.33 L743.3,329.33" fill="none" stroke="#909090" stroke-width="0.8"/>
<path d="M521.6,324.75 L523.6,324.75" fill="none" stroke="#909090" stroke-width="0.8"/>
<path d="M745.3,324.75 L743.3,324.75" fill="none" stroke="#909090" stroke-width="0.8"/>
<path d="M521.6,315.57 L523.6,315.57" fill="none" stroke="#909090" stroke-width="0.8"/>
<path d="M745.3,315.57 L743.3,315.57" fill="none" stroke="#909090" stroke-width="0.8"/>
<path d="M521.6,310.99 L523.6,310.99" fill="none" stroke="#909090" stroke-width="0.8"/>
<path d="M745.3,310.99 L743.3,310.99" fill="none" stroke="#909090" stroke-width="0.8"/>
<path d="M521.6,306.4 L523.6,306.4" fill="none" stroke="#909090" stroke-width="0.8"/>
<path d="M745.3,306.4 L743.3,306.4" fill="none" stroke="#909090" stroke-width="0.8"/>
<path d="M521.6,301.81 L523.6,301.81" fill="none" stroke="#909090" stroke-width="0.8"/>
<path d="M745.3,301.81 L743.3,301.81" fill="none" stroke="#909090" stroke-width="0.8"/>
<path d="M521.6,292.64 L523.6,292.64" fill="none" stroke="#909090" stroke-width="0.8"/>
<path d="M745.3,292.64 L743.3,292.64" fill="none" stroke="#909090" stroke-width="0.8"/>
<path d="M521.6,288.05 L523.6,288.05" fill="none" stroke="#909090" stroke-width="0.8"/>
<path d="M745.3,288.05 L743.3,288.05" fill="none" stroke="#909090" stroke-width="0.8"/>
<path d="M521.6,283.46 L523.6,283.46" fill="none" stroke="#909090" stroke-width="0.8"/>
<path d="M745.3,283.46 L743.3,283.46" fill="none" stroke="#909090" stroke-width="0.8"/>
<path d="M521.6,278.88 L523.6,278.88" fill="none" stroke="#909090" stroke-width="0.8"/>
<path d="M745.3,278.88 L743.3,278.88" fill="none" stroke="#909090" stroke-width="0.8"/>
<path d="M526,411.9 L526,408.7" fill="none" stroke="#707070" stroke-width="0.9"/>
<path d="M526,273.6 L526,276.8" fill="none" stroke="#707070" stroke-width="0.9"/>
<path d="M579.65,411.9 L579.65,408.7" fill="none" stroke="#707070" stroke-width="0.9"/>
<path d="M579.65,273.6 L579.65,276.8" fill="none" stroke="#707070" stroke-width="0.9"/>
<path d="M633.3,411.9 L633.3,408.7" fill="none" stroke="#707070" stroke-width="0.9"/>
<path d="M633.3,273.6 L633.3,276.8" fill="none" stroke="#707070" stroke-width="0.9"/>
<path d="M686.95,411.9 L686.95,408.7" fill="none" stroke="#707070" stroke-width="0.9"/>
<path d="M686.95,273.6 L686.95,276.8" fill="none" stroke="#707070" stroke-width="0.9"/>
<path d="M740.6,411.9 L740.6,408.7" fill="none" stroke="#707070" stroke-width="0.9"/>
<path d="M740.6,273.6 L740.6,276.8" fill="none" stroke="#707070" stroke-width="0.9"/>
<path d="M542.15,411.9 L542.15,409.9" fill="none" stroke="#909090" stroke-width="0.8"/>
<path d="M542.15,273.6 L542.15,275.6" fill="none" stroke="#909090" stroke-width="0.8"/>
<path d="M551.6,411.9 L551.6,409.9" fill="none" stroke="#909090" stroke-width="0.8"/>
<path d="M551.6,273.6 L551.6,275.6" fill="none" stroke="#909090" stroke-width="0.8"/>
<path d="M558.3,411.9 L558.3,409.9" fill="none" stroke="#909090" stroke-width="0.8"/>
<path d="M558.3,273.6 L558.3,275.6" fill="none" stroke="#909090" stroke-width="0.8"/>
<path d="M563.5,411.9 L563.5,409.9" fill="none" stroke="#909090" stroke-width="0.8"/>
<path d="M563.5,273.6 L563.5,275.6" fill="none" stroke="#909090" stroke-width="0.8"/>
<path d="M567.75,411.9 L567.75,409.9" fill="none" stroke="#909090" stroke-width="0.8"/>
<path d="M567.75,273.6 L567.75,275.6" fill="none" stroke="#909090" stroke-width="0.8"/>
<path d="M571.34,411.9 L571.34,409.9" fill="none" stroke="#909090" stroke-width="0.8"/>
<path d="M571.34,273.6 L571.34,275.6" fill="none" stroke="#909090" stroke-width="0.8"/>
<path d="M574.45,411.9 L574.45,409.9" fill="none" stroke="#909090" stroke-width="0.8"/>
<path d="M574.45,273.6 L574.45,275.6" fill="none" stroke="#909090" stroke-width="0.8"/>
<path d="M577.2,411.9 L577.2,409.9" fill="none" stroke="#909090" stroke-width="0.8"/>
<path d="M577.2,273.6 L577.2,275.6" fill="none" stroke="#909090" stroke-width="0.8"/>
<path d="M595.8,411.9 L595.8,409.9" fill="none" stroke="#909090" stroke-width="0.8"/>
<path d="M595.8,273.6 L595.8,275.6" fill="none" stroke="#909090" stroke-width="0.8"/>
<path d="M605.25,411.9 L605.25,409.9" fill="none" stroke="#909090" stroke-width="0.8"/>
<path d="M605.25,273.6 L605.25,275.6" fill="none" stroke="#909090" stroke-width="0.8"/>
<path d="M611.95,411.9 L611.95,409.9" fill="none" stroke="#909090" stroke-width="0.8"/>
<path d="M611.95,273.6 L611.95,275.6" fill="none" stroke="#909090" stroke-width="0.8"/>
<path d="M617.15,411.9 L617.15,409.9" fill="none" stroke="#909090" stroke-width="0.8"/>
<path d="M617.15,273.6 L617.15,275.6" fill="none" stroke="#909090" stroke-width="0.8"/>
<path d="M621.4,411.9 L621.4,409.9" fill="none" stroke="#909090" stroke-width="0.8"/>
<path d="M621.4,273.6 L621.4,275.6" fill="none" stroke="#909090" stroke-width="0.8"/>
<path d="M624.99,411.9 L624.99,409.9" fill="none" stroke="#909090" stroke-width="0.8"/>
<path d="M624.99,273.6 L624.99,275.6" fill="none" stroke="#909090" stroke-width="0.8"/>
<path d="M628.1,411.9 L628.1,409.9" fill="none" stroke="#909090" stroke-width="0.8"/>
<path d="M628.1,273.6 L628.1,275.6" fill="none" stroke="#909090" stroke-width="0.8"/>
<path d="M630.85,411.9 L630.85,409.9" fill="none" stroke="#909090" stroke-width="0.8"/>
<path d="M630.85,273.6 L630.85,275.6" fill="none" stroke="#909090" stroke-width="0.8"/>
<path d="M649.45,411.9 L649.45,409.9" fill="none" stroke="#909090" stroke-width="0.8"/>
<path d="M649.45,273.6 L649.45,275.6" fill="none" stroke="#909090" stroke-width="0.8"/>
<path d="M658.9,411.9 L658.9,409.9" fill="none" stroke="#909090" stroke-width="0.8"/>
<path d="M658.9,273.6 L658.9,275.6" fill="none" stroke="#909090" stroke-width="0.8"/>
<path d="M665.6,411.9 L665.6,409.9" fill="none" stroke="#909090" stroke-width="0.8"/>
<path d="M665.6,273.6 L665.6,275.6" fill="none" stroke="#909090" stroke-width="0.8"/>
<path d="M670.8,411.9 L670.8,409.9" fill="none" stroke="#909090" stroke-width="0.8"/>
<path d="M670.8,273.6 L670.8,275.6" fill="none" stroke="#909090" stroke-width="0.8"/>
<path d="M675.05,411.9 L675.05,409.9" fill="none" stroke="#909090" stroke-width="0.8"/>
<path d="M675.05,273.6 L675.05,275.6" fill="none" stroke="#909090" stroke-width="0.8"/>
<path d="M678.64,411.9 L678.64,409.9" fill="none" stroke="#909090" stroke-width="0.8"/>
<path d="M678.64,273.6 L678.64,275.6" fill="none" stroke="#909090" stroke-width="0.8"/>
<path d="M681.75,411.9 L681.75,409.9" fill="none" stroke="#909090" stroke-width="0.8"/>
<path d="M681.75,273.6 L681.75,275.6" fill="none" stroke="#909090" stroke-width="0.8"/>
<path d="M684.5,411.9 L684.5,409.9" fill="none" stroke="#909090" stroke-width="0.8"/>
<path d="M684.5,273.6 L684.5,275.6" fill="none" stroke="#909090" stroke-width="0.8"/>
<path d="M703.1,411.9 L703.1,409.9" fill="none" stroke="#909090" stroke-width="0.8"/>
<path d="M703.1,273.6 L703.1,275.6" fill="none" stroke="#909090" stroke-width="0.8"/>
<path d="M712.55,411.9 L712.55,409.9" fill="none" stroke="#909090" stroke-width="0.8"/>
<path d="M712.55,273.6 L712.55,275.6" fill="none" stroke="#909090" stroke-width="0.8"/>
<path d="M719.25,411.9 L719.25,409.9" fill="none" stroke="#909090" stroke-width="0.8"/>
<path d="M719.25,273.6 L719.25,275.6" fill="none" stroke="#909090" stroke-width="0.8"/>
<path d="M724.45,411.9 L724.45,409.9" fill="none" stroke="#909090" stroke-width="0.8"/>
<path d="M724.45,273.6 L724.45,275.6" fill="none" stroke="#909090" stroke-width="0.8"/>
<path d="M728.7,411.9 L728.7,409.9" fill="none" stroke="#909090" stroke-width="0.8"/>
<path d="M728.7,273.6 L728.7,275.6" fill="none" stroke="#909090" stroke-width="0.8"/>
<path d="M732.29,411.9 L732.29,409.9" fill="none" stroke="#909090" stroke-width="0.8"/>
<path d="M732.29,273.6 L732.29,275.6" fill="none" stroke="#909090" stroke-width="0.8"/>
<path d="M735.4,411.9 L735.4,409.9" fill="none" stroke="#909090" stroke-width="0.8"/>
<path d="M735.4,273.6 L735.4,275.6" fill="none" stroke="#909090" stroke-width="0.8"/>
<path d="M738.15,411.9 L738.15,409.9" fill="none" stroke="#909090" stroke-width="0.8"/>
<path d="M738.15,273.6 L738.15,275.6" fill="none" stroke="#909090" stroke-width="0.8"/>
<text x="519.5" y="415" font-family="'Liberation Sans', sans-serif" font-size="8.6" fill="#111" font-weight="bold" font-style="normal" text-anchor="end" stroke="#111" stroke-width="0.15">0.0</text>
<text x="519.5" y="392.06" font-family="'Liberation Sans', sans-serif" font-size="8.6" fill="#111" font-weight="bold" font-style="normal" text-anchor="end" stroke="#111" stroke-width="0.15">0.5</text>
<text x="519.5" y="369.13" font-family="'Liberation Sans', sans-serif" font-size="8.6" fill="#111" font-weight="bold" font-style="normal" text-anchor="end" stroke="#111" stroke-width="0.15">1.0</text>
<text x="519.5" y="346.19" font-family="'Liberation Sans', sans-serif" font-size="8.6" fill="#111" font-weight="bold" font-style="normal" text-anchor="end" stroke="#111" stroke-width="0.15">1.5</text>
<text x="519.5" y="323.26" font-family="'Liberation Sans', sans-serif" font-size="8.6" fill="#111" font-weight="bold" font-style="normal" text-anchor="end" stroke="#111" stroke-width="0.15">2.0</text>
<text x="519.5" y="300.32" font-family="'Liberation Sans', sans-serif" font-size="8.6" fill="#111" font-weight="bold" font-style="normal" text-anchor="end" stroke="#111" stroke-width="0.15">2.5</text>
<text x="519.5" y="277.39" font-family="'Liberation Sans', sans-serif" font-size="8.6" fill="#111" font-weight="bold" font-style="normal" text-anchor="end" stroke="#111" stroke-width="0.15">3.0</text>
<text x="526" y="423.3" font-family="'Liberation Sans', sans-serif" font-size="8.6" fill="#111" font-weight="bold" font-style="normal" text-anchor="middle" stroke="#111" stroke-width="0.15">0.01</text>
<text x="579.65" y="423.3" font-family="'Liberation Sans', sans-serif" font-size="8.6" fill="#111" font-weight="bold" font-style="normal" text-anchor="middle" stroke="#111" stroke-width="0.15">0.10</text>
<text x="633.3" y="423.3" font-family="'Liberation Sans', sans-serif" font-size="8.6" fill="#111" font-weight="bold" font-style="normal" text-anchor="middle" stroke="#111" stroke-width="0.15">1</text>
<text x="686.95" y="423.3" font-family="'Liberation Sans', sans-serif" font-size="8.6" fill="#111" font-weight="bold" font-style="normal" text-anchor="middle" stroke="#111" stroke-width="0.15">10</text>
<text x="740.6" y="423.3" font-family="'Liberation Sans', sans-serif" font-size="8.6" fill="#111" font-weight="bold" font-style="normal" text-anchor="middle" stroke="#111" stroke-width="0.15">100</text>
<path d="M526,390.8 L527.81,390.8 L529.61,390.8 L531.42,390.8 L533.22,390.8 L535.03,390.8 L536.84,390.8 L538.64,390.8 L540.45,390.8 L542.25,390.8 L544.06,390.8 L545.86,390.8 L547.67,390.8 L549.48,390.8 L551.28,390.8 L553.09,390.8 L554.89,390.8 L556.7,390.8 L558.51,390.8 L560.31,390.8 L562.12,390.8 L563.92,390.8 L565.73,390.79 L567.54,390.79 L569.34,390.79 L571.15,390.79 L572.95,390.79 L574.76,390.79 L576.56,390.79 L578.37,390.79 L580.18,390.79 L581.98,390.79 L583.79,390.79 L585.59,390.79 L587.4,390.79 L589.21,390.78 L591.01,390.78 L592.82,390.78 L594.62,390.78 L596.43,390.78 L598.24,390.77 L600.04,390.77 L601.85,390.77 L603.65,390.77 L605.46,390.76 L607.26,390.76 L609.07,390.76 L610.88,390.75 L612.68,390.75 L614.49,390.74 L616.29,390.74 L618.1,390.73 L619.91,390.73 L621.71,390.72 L623.52,390.71 L625.32,390.7 L627.13,390.69 L628.94,390.68 L630.74,390.67 L632.55,390.66 L634.35,390.65 L636.16,390.63 L637.96,390.62 L639.77,390.6 L641.58,390.58 L643.38,390.57 L645.19,390.54 L646.99,390.52 L648.8,390.5 L650.61,390.47 L652.41,390.44 L654.22,390.41 L656.02,390.37 L657.83,390.33 L659.64,390.29 L661.44,390.25 L663.25,390.2 L665.05,390.15 L666.86,390.1 L668.66,390.04 L670.47,389.97 L672.28,389.9 L674.08,389.83 L675.89,389.75 L677.69,389.67 L679.5,389.58 L681.31,389.49 L683.11,389.39 L684.92,389.29 L686.72,389.18 L688.53,389.07 L690.34,388.95 L692.14,388.82 L693.95,388.7 L695.75,388.56 L697.56,388.42 L699.36,388.28 L701.17,388.14 L702.98,387.99 L704.78,387.84 L706.59,387.69 L708.39,387.54 L710.2,387.38 L712.01,387.23 L713.81,387.08 L715.62,386.93 L717.42,386.78 L719.23,386.63 L721.04,386.49 L722.84,386.34 L724.65,386.21 L726.45,386.08 L728.26,385.95 L730.06,385.82 L731.87,385.71 L733.68,385.59 L735.48,385.49 L737.29,385.38 L739.09,385.29 L740.9,385.2" fill="none" stroke="#333" stroke-width="1.6" stroke-dasharray="2.2 1.4"/>
<path d="M526,310.7 L527.81,310.69 L529.61,310.69 L531.42,310.69 L533.22,310.69 L535.03,310.69 L536.84,310.69 L538.64,310.69 L540.45,310.69 L542.25,310.69 L544.06,310.69 L545.86,310.69 L547.67,310.68 L549.48,310.68 L551.28,310.68 L553.09,310.68 L554.89,310.67 L556.7,310.67 L558.51,310.67 L560.31,310.67 L562.12,310.66 L563.92,310.66 L565.73,310.65 L567.54,310.65 L569.34,310.64 L571.15,310.63 L572.95,310.63 L574.76,310.62 L576.56,310.61 L578.37,310.6 L580.18,310.59 L581.98,310.58 L583.79,310.56 L585.59,310.55 L587.4,310.53 L589.21,310.51 L591.01,310.49 L592.82,310.47 L594.62,310.44 L596.43,310.41 L598.24,310.38 L600.04,310.35 L601.85,310.31 L603.65,310.27 L605.46,310.22 L607.26,310.17 L609.07,310.11 L610.88,310.05 L612.68,309.98 L614.49,309.9 L616.29,309.82 L618.1,309.73 L619.91,309.63 L621.71,309.52 L623.52,309.4 L625.32,309.27 L627.13,309.13 L628.94,308.97 L630.74,308.81 L632.55,308.63 L634.35,308.44 L636.16,308.23 L637.96,308.01 L639.77,307.78 L641.58,307.53 L643.38,307.27 L645.19,306.99 L646.99,306.71 L648.8,306.4 L650.61,306.09 L652.41,305.77 L654.22,305.44 L656.02,305.1 L657.83,304.76 L659.64,304.41 L661.44,304.07 L663.25,303.72 L665.05,303.37 L666.86,303.03 L668.66,302.7 L670.47,302.37 L672.28,302.05 L674.08,301.75 L675.89,301.45 L677.69,301.17 L679.5,300.9 L681.31,300.65 L683.11,300.4 L684.92,300.18 L686.72,299.96 L688.53,299.77 L690.34,299.58 L692.14,299.41 L693.95,299.25 L695.75,299.1 L697.56,298.97 L699.36,298.84 L701.17,298.73 L702.98,298.62 L704.78,298.53 L706.59,298.44 L708.39,298.36 L710.2,298.29 L712.01,298.22 L713.81,298.16 L715.62,298.11 L717.42,298.06 L719.23,298.01 L721.04,297.97 L722.84,297.94 L724.65,297.9 L726.45,297.87 L728.26,297.85 L730.06,297.82 L731.87,297.8 L733.68,297.78 L735.48,297.76 L737.29,297.75 L739.09,297.73 L740.9,297.72" fill="none" stroke="#959595" stroke-width="1.8" stroke-dasharray="4.6 1.2"/>
<path d="M526,389.4 L535.21,389.41 L544.37,389.44 L553.51,389.47 L562.66,389.5 L571.85,389.52 L581.12,389.51 L590.49,389.48 L600,389.4 L610.07,389.29 L620.87,389.15 L632,388.98 L643.09,388.79 L653.75,388.57 L663.61,388.34 L672.29,388.08 L679.4,387.8 L684.81,387.51 L688.82,387.2 L691.72,386.87 L693.78,386.51 L695.27,386.13 L696.49,385.72 L697.71,385.28 L699.2,384.8 L700.75,384.27 L701.99,383.69 L703,383.07 L703.85,382.43 L704.6,381.76 L705.33,381.1 L706.11,380.44 L707,379.8 L707,310.9 L707.36,310.63 L707.68,310.35 L708,310.07 L708.32,309.79 L708.67,309.51 L709.05,309.25 L709.49,309.01 L710,308.8 L710.46,308.61 L710.8,308.44 L711.12,308.28 L711.52,308.14 L712.09,308.01 L712.93,307.9 L714.13,307.79 L715.8,307.7 L718.01,307.62 L720.72,307.57 L723.8,307.53 L727.14,307.5 L730.64,307.48 L734.17,307.46 L737.63,307.43 L740.9,307.4" fill="none" stroke="#111" stroke-width="1.35"/>
<text x="495.9" y="343.6" font-family="'Liberation Serif', serif" font-size="13.5" fill="#3a3a3a" stroke="#3a3a3a" stroke-width="0.15" text-anchor="middle" textLength="21.8" lengthAdjust="spacingAndGlyphs" transform="rotate(-90 495.9 343.6)"><tspan font-style="italic">r</tspan>(<tspan font-style="italic">x</tspan>)</text>
<g fill="none" stroke="#2a2a2a" stroke-linecap="round">
<path d="M633.59,437.75 L632.26,442.57" stroke-width="0.98"/>
<path d="M629.88,439.34 C630.16,437.39 631.84,436.66 633.59,437.88 C634.15,437.02 635.34,436.9 635.9,438" stroke-width="0.53"/>
<path d="M630.3,442.02 C630.65,443 631.7,443.12 632.26,442.57 C633.1,443.31 635.2,442.69 636.04,440.56" stroke-width="0.53"/>
</g>
<circle cx="635.76" cy="438.12" r="0.55" fill="#2a2a2a"/>
<circle cx="630.37" cy="441.96" r="0.55" fill="#2a2a2a"/>
<path d="M527.3,327.3 L556,327.3" fill="none" stroke="#333" stroke-width="1.6" stroke-dasharray="2.2 1.4"/>
<path d="M527.3,342.5 L556,342.5" fill="none" stroke="#959595" stroke-width="1.7" stroke-dasharray="4.6 1.3"/>
<path d="M527.3,357.7 L556,357.7" fill="none" stroke="#111" stroke-width="1.35"/>
<text x="561.7" y="330.3" font-family="'Liberation Sans', sans-serif" font-size="8.6" fill="#111" font-weight="bold" font-style="normal" text-anchor="start" stroke="#111" stroke-width="0.15">columnar</text>
<text x="561.7" y="345.5" font-family="'Liberation Sans', sans-serif" font-size="8.6" fill="#111" font-weight="bold" font-style="normal" text-anchor="start" stroke="#111" stroke-width="0.15">squamous</text>
<text x="561.7" y="360.7" font-family="'Liberation Sans', sans-serif" font-size="8.6" fill="#111" font-weight="bold" font-style="normal" text-anchor="start" stroke="#111" stroke-width="0.15">crossover</text>
</svg></body></html>
